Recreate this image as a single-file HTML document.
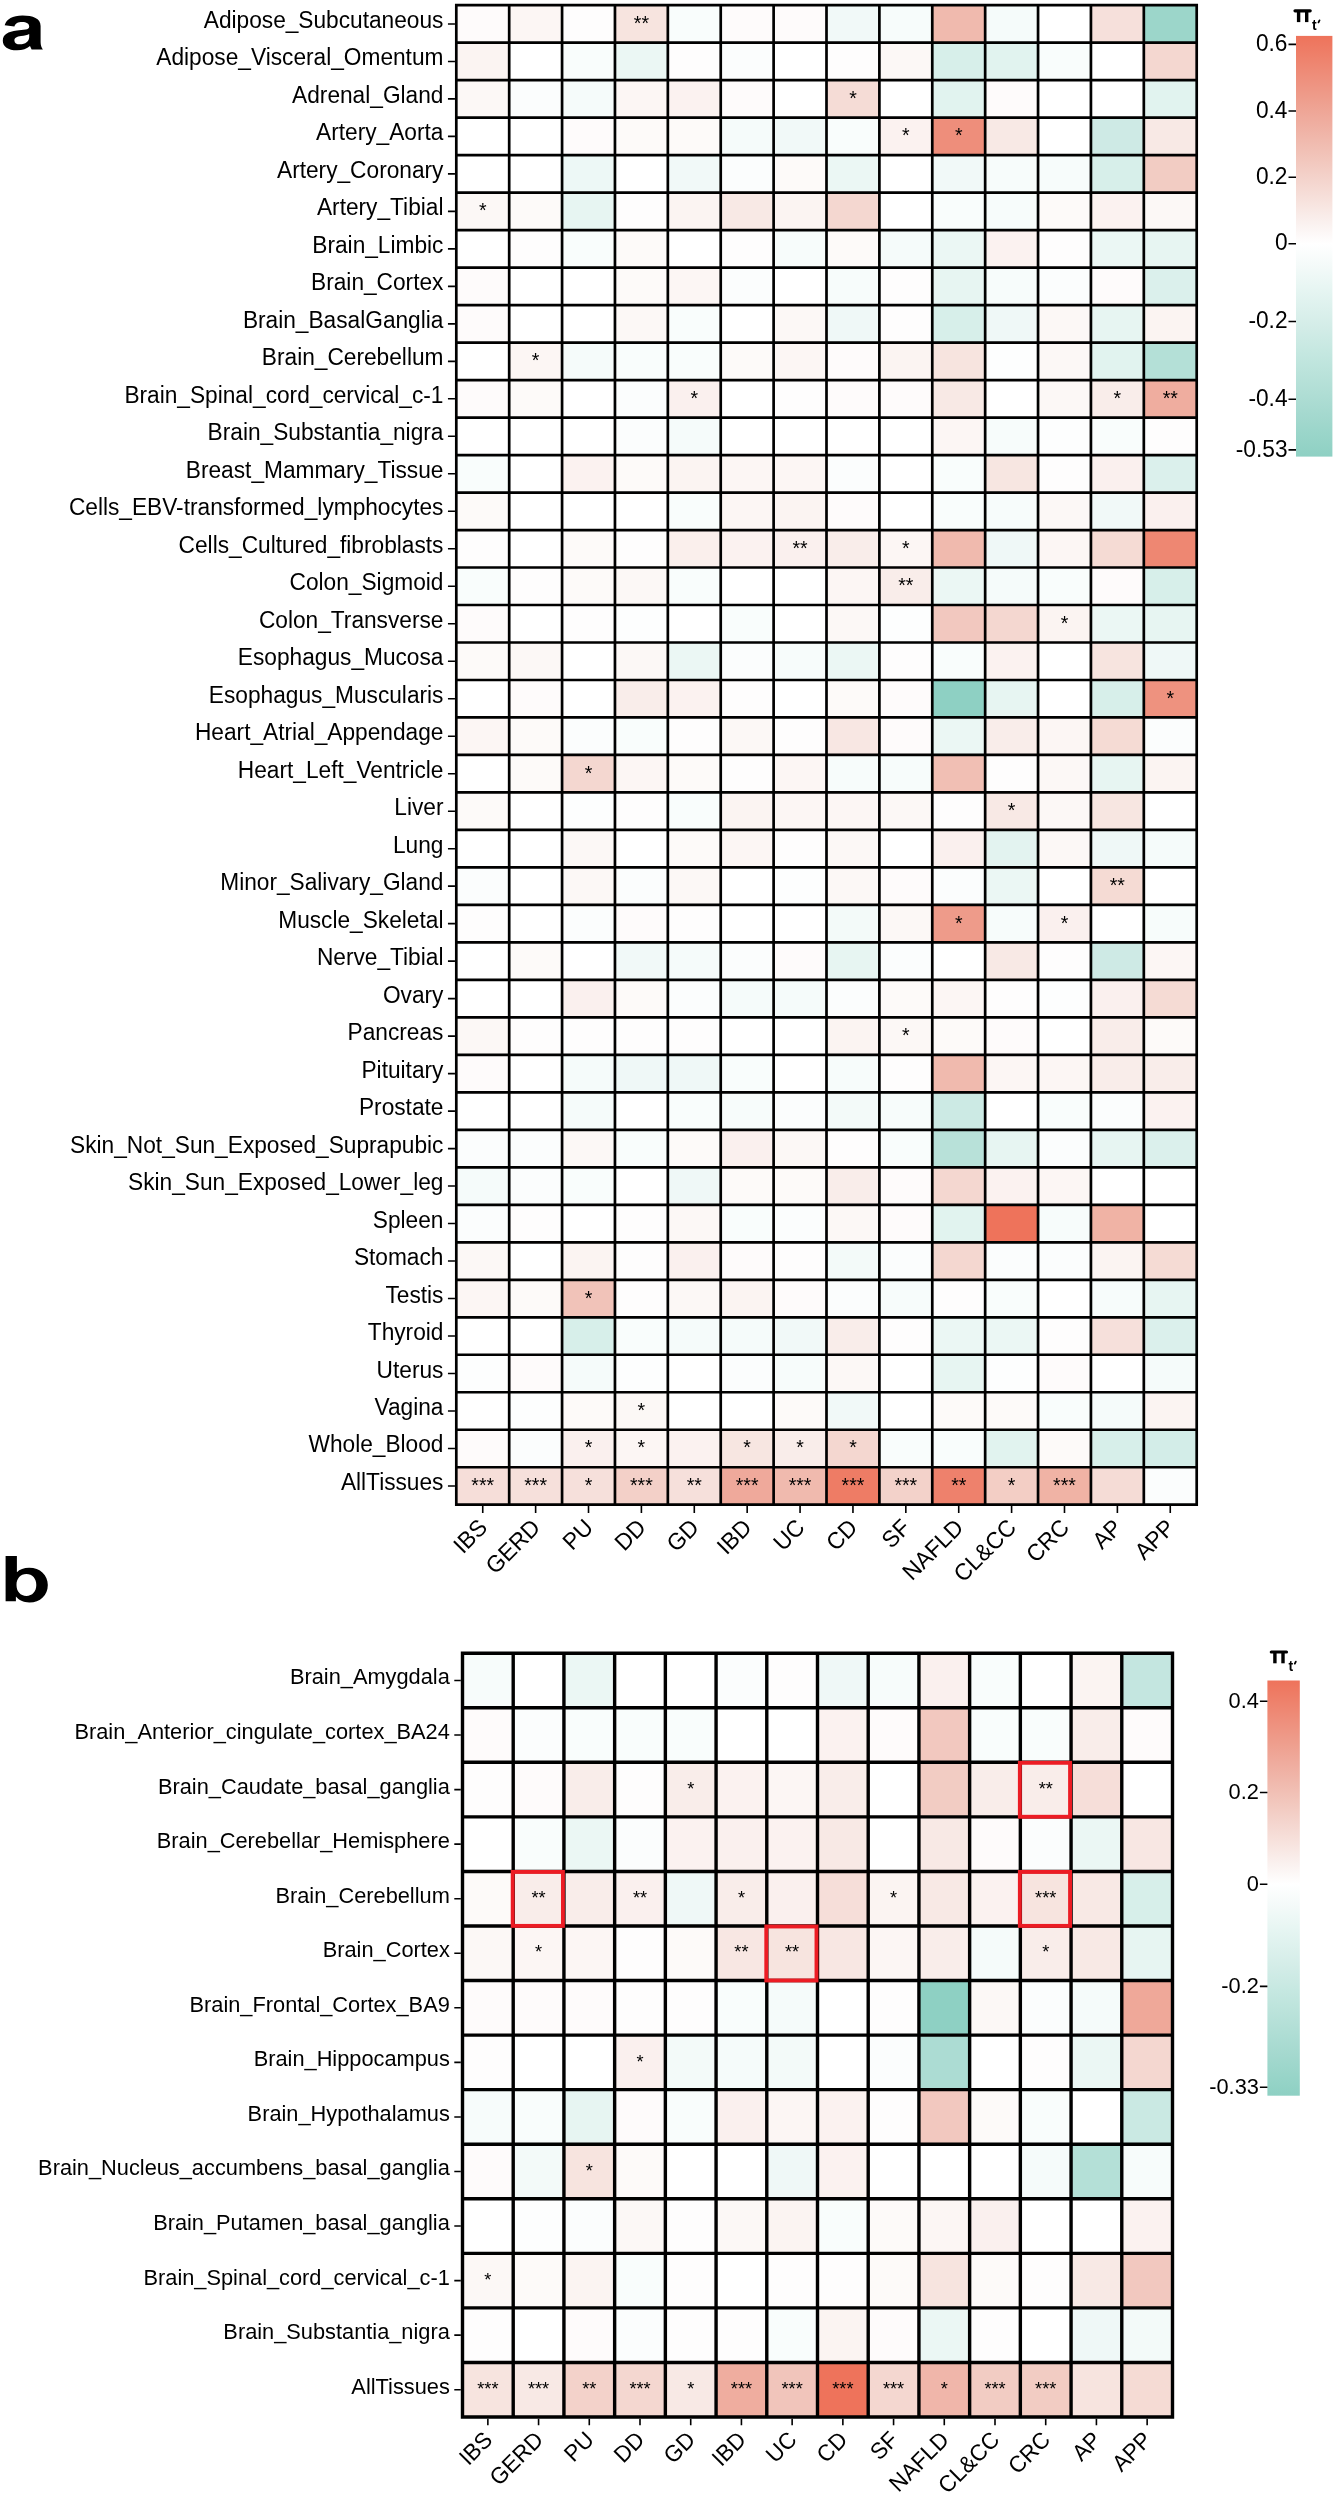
<!DOCTYPE html>
<html><head><meta charset="utf-8"><style>
html,body{margin:0;padding:0;background:#fff;}
svg{display:block;will-change:transform;}
text{font-family:"Liberation Sans",sans-serif;fill:#000;}
</style></head><body>
<svg width="1335" height="2495" viewBox="0 0 1335 2495">
<rect width="1335" height="2495" fill="#fff"/>
<rect x="456.30" y="5.20" width="52.89" height="37.49" fill="#fefbfb"/>
<rect x="509.19" y="5.20" width="52.89" height="37.49" fill="#fcf6f4"/>
<rect x="562.07" y="5.20" width="52.89" height="37.49" fill="#fefdfd"/>
<rect x="614.96" y="5.20" width="52.89" height="37.49" fill="#f7e4df"/>
<rect x="667.84" y="5.20" width="52.89" height="37.49" fill="#f9fdfc"/>
<rect x="720.73" y="5.20" width="52.89" height="37.49" fill="#fefbfb"/>
<rect x="773.62" y="5.20" width="52.89" height="37.49" fill="#fefbfb"/>
<rect x="826.50" y="5.20" width="52.89" height="37.49" fill="#f1f9f8"/>
<rect x="879.39" y="5.20" width="52.89" height="37.49" fill="#f7fcfb"/>
<rect x="932.27" y="5.20" width="52.89" height="37.49" fill="#f0baae"/>
<rect x="985.16" y="5.20" width="52.89" height="37.49" fill="#f5fbfa"/>
<rect x="1038.05" y="5.20" width="52.89" height="37.49" fill="#ffffff"/>
<rect x="1090.93" y="5.20" width="52.89" height="37.49" fill="#f6e0db"/>
<rect x="1143.82" y="5.20" width="52.89" height="37.49" fill="#9cd6ca"/>
<rect x="456.30" y="42.69" width="52.89" height="37.49" fill="#fbf4f2"/>
<rect x="509.19" y="42.69" width="52.89" height="37.49" fill="#ffffff"/>
<rect x="562.07" y="42.69" width="52.89" height="37.49" fill="#f9fdfc"/>
<rect x="614.96" y="42.69" width="52.89" height="37.49" fill="#ebf7f4"/>
<rect x="667.84" y="42.69" width="52.89" height="37.49" fill="#fefdfd"/>
<rect x="720.73" y="42.69" width="52.89" height="37.49" fill="#fbfdfd"/>
<rect x="773.62" y="42.69" width="52.89" height="37.49" fill="#ffffff"/>
<rect x="826.50" y="42.69" width="52.89" height="37.49" fill="#fefdfd"/>
<rect x="879.39" y="42.69" width="52.89" height="37.49" fill="#fcf8f6"/>
<rect x="932.27" y="42.69" width="52.89" height="37.49" fill="#d7efea"/>
<rect x="985.16" y="42.69" width="52.89" height="37.49" fill="#e1f3ef"/>
<rect x="1038.05" y="42.69" width="52.89" height="37.49" fill="#f9fdfc"/>
<rect x="1090.93" y="42.69" width="52.89" height="37.49" fill="#ffffff"/>
<rect x="1143.82" y="42.69" width="52.89" height="37.49" fill="#f4d7d0"/>
<rect x="456.30" y="80.18" width="52.89" height="37.49" fill="#fcf8f6"/>
<rect x="509.19" y="80.18" width="52.89" height="37.49" fill="#fbfdfd"/>
<rect x="562.07" y="80.18" width="52.89" height="37.49" fill="#f5fbfa"/>
<rect x="614.96" y="80.18" width="52.89" height="37.49" fill="#fcf6f4"/>
<rect x="667.84" y="80.18" width="52.89" height="37.49" fill="#fbf2f0"/>
<rect x="720.73" y="80.18" width="52.89" height="37.49" fill="#fefbfb"/>
<rect x="773.62" y="80.18" width="52.89" height="37.49" fill="#ffffff"/>
<rect x="826.50" y="80.18" width="52.89" height="37.49" fill="#f5dcd6"/>
<rect x="879.39" y="80.18" width="52.89" height="37.49" fill="#ffffff"/>
<rect x="932.27" y="80.18" width="52.89" height="37.49" fill="#e1f3ef"/>
<rect x="985.16" y="80.18" width="52.89" height="37.49" fill="#fefbfb"/>
<rect x="1038.05" y="80.18" width="52.89" height="37.49" fill="#ffffff"/>
<rect x="1090.93" y="80.18" width="52.89" height="37.49" fill="#ffffff"/>
<rect x="1143.82" y="80.18" width="52.89" height="37.49" fill="#e1f3ef"/>
<rect x="456.30" y="117.66" width="52.89" height="37.49" fill="#ffffff"/>
<rect x="509.19" y="117.66" width="52.89" height="37.49" fill="#ffffff"/>
<rect x="562.07" y="117.66" width="52.89" height="37.49" fill="#fefbfb"/>
<rect x="614.96" y="117.66" width="52.89" height="37.49" fill="#fdfaf9"/>
<rect x="667.84" y="117.66" width="52.89" height="37.49" fill="#fdfaf9"/>
<rect x="720.73" y="117.66" width="52.89" height="37.49" fill="#f5fbfa"/>
<rect x="773.62" y="117.66" width="52.89" height="37.49" fill="#f1f9f8"/>
<rect x="826.50" y="117.66" width="52.89" height="37.49" fill="#f9fdfc"/>
<rect x="879.39" y="117.66" width="52.89" height="37.49" fill="#fbf2f0"/>
<rect x="932.27" y="117.66" width="52.89" height="37.49" fill="#ee8e7b"/>
<rect x="985.16" y="117.66" width="52.89" height="37.49" fill="#f8e9e5"/>
<rect x="1038.05" y="117.66" width="52.89" height="37.49" fill="#ffffff"/>
<rect x="1090.93" y="117.66" width="52.89" height="37.49" fill="#ceeae5"/>
<rect x="1143.82" y="117.66" width="52.89" height="37.49" fill="#f8e9e5"/>
<rect x="456.30" y="155.15" width="52.89" height="37.49" fill="#ffffff"/>
<rect x="509.19" y="155.15" width="52.89" height="37.49" fill="#ffffff"/>
<rect x="562.07" y="155.15" width="52.89" height="37.49" fill="#edf8f6"/>
<rect x="614.96" y="155.15" width="52.89" height="37.49" fill="#ffffff"/>
<rect x="667.84" y="155.15" width="52.89" height="37.49" fill="#f1f9f8"/>
<rect x="720.73" y="155.15" width="52.89" height="37.49" fill="#fbfdfd"/>
<rect x="773.62" y="155.15" width="52.89" height="37.49" fill="#fdfaf9"/>
<rect x="826.50" y="155.15" width="52.89" height="37.49" fill="#ebf7f4"/>
<rect x="879.39" y="155.15" width="52.89" height="37.49" fill="#ffffff"/>
<rect x="932.27" y="155.15" width="52.89" height="37.49" fill="#f1f9f8"/>
<rect x="985.16" y="155.15" width="52.89" height="37.49" fill="#f7fcfb"/>
<rect x="1038.05" y="155.15" width="52.89" height="37.49" fill="#f7fcfb"/>
<rect x="1090.93" y="155.15" width="52.89" height="37.49" fill="#d7efea"/>
<rect x="1143.82" y="155.15" width="52.89" height="37.49" fill="#f2ccc3"/>
<rect x="456.30" y="192.64" width="52.89" height="37.49" fill="#fcf8f6"/>
<rect x="509.19" y="192.64" width="52.89" height="37.49" fill="#fdfaf9"/>
<rect x="562.07" y="192.64" width="52.89" height="37.49" fill="#e7f5f2"/>
<rect x="614.96" y="192.64" width="52.89" height="37.49" fill="#fefdfd"/>
<rect x="667.84" y="192.64" width="52.89" height="37.49" fill="#fbf4f2"/>
<rect x="720.73" y="192.64" width="52.89" height="37.49" fill="#f8e9e5"/>
<rect x="773.62" y="192.64" width="52.89" height="37.49" fill="#fbf4f2"/>
<rect x="826.50" y="192.64" width="52.89" height="37.49" fill="#f4d7d0"/>
<rect x="879.39" y="192.64" width="52.89" height="37.49" fill="#ffffff"/>
<rect x="932.27" y="192.64" width="52.89" height="37.49" fill="#f9fdfc"/>
<rect x="985.16" y="192.64" width="52.89" height="37.49" fill="#f7fcfb"/>
<rect x="1038.05" y="192.64" width="52.89" height="37.49" fill="#fdfaf9"/>
<rect x="1090.93" y="192.64" width="52.89" height="37.49" fill="#fbf2f0"/>
<rect x="1143.82" y="192.64" width="52.89" height="37.49" fill="#fcf8f6"/>
<rect x="456.30" y="230.13" width="52.89" height="37.49" fill="#ffffff"/>
<rect x="509.19" y="230.13" width="52.89" height="37.49" fill="#fefdfd"/>
<rect x="562.07" y="230.13" width="52.89" height="37.49" fill="#f9fdfc"/>
<rect x="614.96" y="230.13" width="52.89" height="37.49" fill="#fdfaf9"/>
<rect x="667.84" y="230.13" width="52.89" height="37.49" fill="#ffffff"/>
<rect x="720.73" y="230.13" width="52.89" height="37.49" fill="#fefdfd"/>
<rect x="773.62" y="230.13" width="52.89" height="37.49" fill="#f7fcfb"/>
<rect x="826.50" y="230.13" width="52.89" height="37.49" fill="#fdfaf9"/>
<rect x="879.39" y="230.13" width="52.89" height="37.49" fill="#f5fbfa"/>
<rect x="932.27" y="230.13" width="52.89" height="37.49" fill="#ebf7f4"/>
<rect x="985.16" y="230.13" width="52.89" height="37.49" fill="#fbf2f0"/>
<rect x="1038.05" y="230.13" width="52.89" height="37.49" fill="#fefdfd"/>
<rect x="1090.93" y="230.13" width="52.89" height="37.49" fill="#ebf7f4"/>
<rect x="1143.82" y="230.13" width="52.89" height="37.49" fill="#e7f5f2"/>
<rect x="456.30" y="267.62" width="52.89" height="37.49" fill="#fefbfb"/>
<rect x="509.19" y="267.62" width="52.89" height="37.49" fill="#ffffff"/>
<rect x="562.07" y="267.62" width="52.89" height="37.49" fill="#ffffff"/>
<rect x="614.96" y="267.62" width="52.89" height="37.49" fill="#fdfaf9"/>
<rect x="667.84" y="267.62" width="52.89" height="37.49" fill="#fcf6f4"/>
<rect x="720.73" y="267.62" width="52.89" height="37.49" fill="#fbfdfd"/>
<rect x="773.62" y="267.62" width="52.89" height="37.49" fill="#ffffff"/>
<rect x="826.50" y="267.62" width="52.89" height="37.49" fill="#f7fcfb"/>
<rect x="879.39" y="267.62" width="52.89" height="37.49" fill="#fefdfd"/>
<rect x="932.27" y="267.62" width="52.89" height="37.49" fill="#e7f5f2"/>
<rect x="985.16" y="267.62" width="52.89" height="37.49" fill="#f7fcfb"/>
<rect x="1038.05" y="267.62" width="52.89" height="37.49" fill="#fbfdfd"/>
<rect x="1090.93" y="267.62" width="52.89" height="37.49" fill="#fefbfb"/>
<rect x="1143.82" y="267.62" width="52.89" height="37.49" fill="#dbf0ec"/>
<rect x="456.30" y="305.10" width="52.89" height="37.49" fill="#fefbfb"/>
<rect x="509.19" y="305.10" width="52.89" height="37.49" fill="#ffffff"/>
<rect x="562.07" y="305.10" width="52.89" height="37.49" fill="#ffffff"/>
<rect x="614.96" y="305.10" width="52.89" height="37.49" fill="#fcf8f6"/>
<rect x="667.84" y="305.10" width="52.89" height="37.49" fill="#f9fdfc"/>
<rect x="720.73" y="305.10" width="52.89" height="37.49" fill="#ffffff"/>
<rect x="773.62" y="305.10" width="52.89" height="37.49" fill="#fcf8f6"/>
<rect x="826.50" y="305.10" width="52.89" height="37.49" fill="#eff8f7"/>
<rect x="879.39" y="305.10" width="52.89" height="37.49" fill="#fefdfd"/>
<rect x="932.27" y="305.10" width="52.89" height="37.49" fill="#d7efea"/>
<rect x="985.16" y="305.10" width="52.89" height="37.49" fill="#eff8f7"/>
<rect x="1038.05" y="305.10" width="52.89" height="37.49" fill="#fcf8f6"/>
<rect x="1090.93" y="305.10" width="52.89" height="37.49" fill="#e7f5f2"/>
<rect x="1143.82" y="305.10" width="52.89" height="37.49" fill="#fbf4f2"/>
<rect x="456.30" y="342.59" width="52.89" height="37.49" fill="#ffffff"/>
<rect x="509.19" y="342.59" width="52.89" height="37.49" fill="#fcf6f4"/>
<rect x="562.07" y="342.59" width="52.89" height="37.49" fill="#f5fbfa"/>
<rect x="614.96" y="342.59" width="52.89" height="37.49" fill="#f9fdfc"/>
<rect x="667.84" y="342.59" width="52.89" height="37.49" fill="#f9fdfc"/>
<rect x="720.73" y="342.59" width="52.89" height="37.49" fill="#fdfaf9"/>
<rect x="773.62" y="342.59" width="52.89" height="37.49" fill="#fcf6f4"/>
<rect x="826.50" y="342.59" width="52.89" height="37.49" fill="#fefbfb"/>
<rect x="879.39" y="342.59" width="52.89" height="37.49" fill="#fbf4f2"/>
<rect x="932.27" y="342.59" width="52.89" height="37.49" fill="#f7e4df"/>
<rect x="985.16" y="342.59" width="52.89" height="37.49" fill="#fdfefe"/>
<rect x="1038.05" y="342.59" width="52.89" height="37.49" fill="#fcf8f6"/>
<rect x="1090.93" y="342.59" width="52.89" height="37.49" fill="#e1f3ef"/>
<rect x="1143.82" y="342.59" width="52.89" height="37.49" fill="#b4e0d7"/>
<rect x="456.30" y="380.08" width="52.89" height="37.49" fill="#fefbfb"/>
<rect x="509.19" y="380.08" width="52.89" height="37.49" fill="#fdfaf9"/>
<rect x="562.07" y="380.08" width="52.89" height="37.49" fill="#ffffff"/>
<rect x="614.96" y="380.08" width="52.89" height="37.49" fill="#fbfdfd"/>
<rect x="667.84" y="380.08" width="52.89" height="37.49" fill="#faf0ee"/>
<rect x="720.73" y="380.08" width="52.89" height="37.49" fill="#ffffff"/>
<rect x="773.62" y="380.08" width="52.89" height="37.49" fill="#fefdfd"/>
<rect x="826.50" y="380.08" width="52.89" height="37.49" fill="#fefbfb"/>
<rect x="879.39" y="380.08" width="52.89" height="37.49" fill="#fefbfb"/>
<rect x="932.27" y="380.08" width="52.89" height="37.49" fill="#f8e9e5"/>
<rect x="985.16" y="380.08" width="52.89" height="37.49" fill="#ffffff"/>
<rect x="1038.05" y="380.08" width="52.89" height="37.49" fill="#fcf8f6"/>
<rect x="1090.93" y="380.08" width="52.89" height="37.49" fill="#f9edea"/>
<rect x="1143.82" y="380.08" width="52.89" height="37.49" fill="#efad9f"/>
<rect x="456.30" y="417.57" width="52.89" height="37.49" fill="#ffffff"/>
<rect x="509.19" y="417.57" width="52.89" height="37.49" fill="#ffffff"/>
<rect x="562.07" y="417.57" width="52.89" height="37.49" fill="#ffffff"/>
<rect x="614.96" y="417.57" width="52.89" height="37.49" fill="#fbfdfd"/>
<rect x="667.84" y="417.57" width="52.89" height="37.49" fill="#f5fbfa"/>
<rect x="720.73" y="417.57" width="52.89" height="37.49" fill="#ffffff"/>
<rect x="773.62" y="417.57" width="52.89" height="37.49" fill="#ffffff"/>
<rect x="826.50" y="417.57" width="52.89" height="37.49" fill="#ffffff"/>
<rect x="879.39" y="417.57" width="52.89" height="37.49" fill="#ffffff"/>
<rect x="932.27" y="417.57" width="52.89" height="37.49" fill="#fcf6f4"/>
<rect x="985.16" y="417.57" width="52.89" height="37.49" fill="#f7fcfb"/>
<rect x="1038.05" y="417.57" width="52.89" height="37.49" fill="#fdfefe"/>
<rect x="1090.93" y="417.57" width="52.89" height="37.49" fill="#f9fdfc"/>
<rect x="1143.82" y="417.57" width="52.89" height="37.49" fill="#fefdfd"/>
<rect x="456.30" y="455.06" width="52.89" height="37.49" fill="#f9fdfc"/>
<rect x="509.19" y="455.06" width="52.89" height="37.49" fill="#ffffff"/>
<rect x="562.07" y="455.06" width="52.89" height="37.49" fill="#fbf2f0"/>
<rect x="614.96" y="455.06" width="52.89" height="37.49" fill="#fdfaf9"/>
<rect x="667.84" y="455.06" width="52.89" height="37.49" fill="#fbf4f2"/>
<rect x="720.73" y="455.06" width="52.89" height="37.49" fill="#fcf6f4"/>
<rect x="773.62" y="455.06" width="52.89" height="37.49" fill="#fcf6f4"/>
<rect x="826.50" y="455.06" width="52.89" height="37.49" fill="#fbfdfd"/>
<rect x="879.39" y="455.06" width="52.89" height="37.49" fill="#ffffff"/>
<rect x="932.27" y="455.06" width="52.89" height="37.49" fill="#f9fdfc"/>
<rect x="985.16" y="455.06" width="52.89" height="37.49" fill="#f7e6e1"/>
<rect x="1038.05" y="455.06" width="52.89" height="37.49" fill="#fefdfd"/>
<rect x="1090.93" y="455.06" width="52.89" height="37.49" fill="#faf0ee"/>
<rect x="1143.82" y="455.06" width="52.89" height="37.49" fill="#dbf0ec"/>
<rect x="456.30" y="492.54" width="52.89" height="37.49" fill="#fdfaf9"/>
<rect x="509.19" y="492.54" width="52.89" height="37.49" fill="#ffffff"/>
<rect x="562.07" y="492.54" width="52.89" height="37.49" fill="#ffffff"/>
<rect x="614.96" y="492.54" width="52.89" height="37.49" fill="#ffffff"/>
<rect x="667.84" y="492.54" width="52.89" height="37.49" fill="#f9fdfc"/>
<rect x="720.73" y="492.54" width="52.89" height="37.49" fill="#fcf6f4"/>
<rect x="773.62" y="492.54" width="52.89" height="37.49" fill="#fbf4f2"/>
<rect x="826.50" y="492.54" width="52.89" height="37.49" fill="#fefbfb"/>
<rect x="879.39" y="492.54" width="52.89" height="37.49" fill="#ffffff"/>
<rect x="932.27" y="492.54" width="52.89" height="37.49" fill="#f9fdfc"/>
<rect x="985.16" y="492.54" width="52.89" height="37.49" fill="#f7fcfb"/>
<rect x="1038.05" y="492.54" width="52.89" height="37.49" fill="#fcf8f6"/>
<rect x="1090.93" y="492.54" width="52.89" height="37.49" fill="#f1f9f8"/>
<rect x="1143.82" y="492.54" width="52.89" height="37.49" fill="#faf0ee"/>
<rect x="456.30" y="530.03" width="52.89" height="37.49" fill="#fefdfd"/>
<rect x="509.19" y="530.03" width="52.89" height="37.49" fill="#ffffff"/>
<rect x="562.07" y="530.03" width="52.89" height="37.49" fill="#fdfaf9"/>
<rect x="614.96" y="530.03" width="52.89" height="37.49" fill="#fefdfd"/>
<rect x="667.84" y="530.03" width="52.89" height="37.49" fill="#faefec"/>
<rect x="720.73" y="530.03" width="52.89" height="37.49" fill="#fbf2f0"/>
<rect x="773.62" y="530.03" width="52.89" height="37.49" fill="#faf0ee"/>
<rect x="826.50" y="530.03" width="52.89" height="37.49" fill="#f9edea"/>
<rect x="879.39" y="530.03" width="52.89" height="37.49" fill="#fcf6f4"/>
<rect x="932.27" y="530.03" width="52.89" height="37.49" fill="#f0baae"/>
<rect x="985.16" y="530.03" width="52.89" height="37.49" fill="#eff8f7"/>
<rect x="1038.05" y="530.03" width="52.89" height="37.49" fill="#fcf6f4"/>
<rect x="1090.93" y="530.03" width="52.89" height="37.49" fill="#f5dbd4"/>
<rect x="1143.82" y="530.03" width="52.89" height="37.49" fill="#ee8772"/>
<rect x="456.30" y="567.52" width="52.89" height="37.49" fill="#f9fdfc"/>
<rect x="509.19" y="567.52" width="52.89" height="37.49" fill="#fefdfd"/>
<rect x="562.07" y="567.52" width="52.89" height="37.49" fill="#fdfaf9"/>
<rect x="614.96" y="567.52" width="52.89" height="37.49" fill="#fcf8f6"/>
<rect x="667.84" y="567.52" width="52.89" height="37.49" fill="#f9fdfc"/>
<rect x="720.73" y="567.52" width="52.89" height="37.49" fill="#ffffff"/>
<rect x="773.62" y="567.52" width="52.89" height="37.49" fill="#ffffff"/>
<rect x="826.50" y="567.52" width="52.89" height="37.49" fill="#fcf6f4"/>
<rect x="879.39" y="567.52" width="52.89" height="37.49" fill="#f9edea"/>
<rect x="932.27" y="567.52" width="52.89" height="37.49" fill="#ebf7f4"/>
<rect x="985.16" y="567.52" width="52.89" height="37.49" fill="#f5fbfa"/>
<rect x="1038.05" y="567.52" width="52.89" height="37.49" fill="#f9fdfc"/>
<rect x="1090.93" y="567.52" width="52.89" height="37.49" fill="#fefbfb"/>
<rect x="1143.82" y="567.52" width="52.89" height="37.49" fill="#d7efea"/>
<rect x="456.30" y="605.01" width="52.89" height="37.49" fill="#fefbfb"/>
<rect x="509.19" y="605.01" width="52.89" height="37.49" fill="#ffffff"/>
<rect x="562.07" y="605.01" width="52.89" height="37.49" fill="#fefdfd"/>
<rect x="614.96" y="605.01" width="52.89" height="37.49" fill="#fdfefe"/>
<rect x="667.84" y="605.01" width="52.89" height="37.49" fill="#ffffff"/>
<rect x="720.73" y="605.01" width="52.89" height="37.49" fill="#f9fdfc"/>
<rect x="773.62" y="605.01" width="52.89" height="37.49" fill="#ffffff"/>
<rect x="826.50" y="605.01" width="52.89" height="37.49" fill="#fcf8f6"/>
<rect x="879.39" y="605.01" width="52.89" height="37.49" fill="#fdfefe"/>
<rect x="932.27" y="605.01" width="52.89" height="37.49" fill="#f2c8bf"/>
<rect x="985.16" y="605.01" width="52.89" height="37.49" fill="#f4d7d0"/>
<rect x="1038.05" y="605.01" width="52.89" height="37.49" fill="#fbf4f2"/>
<rect x="1090.93" y="605.01" width="52.89" height="37.49" fill="#ebf7f4"/>
<rect x="1143.82" y="605.01" width="52.89" height="37.49" fill="#e7f5f2"/>
<rect x="456.30" y="642.50" width="52.89" height="37.49" fill="#fdfaf9"/>
<rect x="509.19" y="642.50" width="52.89" height="37.49" fill="#fcf8f6"/>
<rect x="562.07" y="642.50" width="52.89" height="37.49" fill="#ffffff"/>
<rect x="614.96" y="642.50" width="52.89" height="37.49" fill="#fcf8f6"/>
<rect x="667.84" y="642.50" width="52.89" height="37.49" fill="#ebf7f4"/>
<rect x="720.73" y="642.50" width="52.89" height="37.49" fill="#fbfdfd"/>
<rect x="773.62" y="642.50" width="52.89" height="37.49" fill="#f7fcfb"/>
<rect x="826.50" y="642.50" width="52.89" height="37.49" fill="#ebf7f4"/>
<rect x="879.39" y="642.50" width="52.89" height="37.49" fill="#fefdfd"/>
<rect x="932.27" y="642.50" width="52.89" height="37.49" fill="#f9fdfc"/>
<rect x="985.16" y="642.50" width="52.89" height="37.49" fill="#fbf2f0"/>
<rect x="1038.05" y="642.50" width="52.89" height="37.49" fill="#ffffff"/>
<rect x="1090.93" y="642.50" width="52.89" height="37.49" fill="#f7e4df"/>
<rect x="1143.82" y="642.50" width="52.89" height="37.49" fill="#eff8f7"/>
<rect x="456.30" y="679.98" width="52.89" height="37.49" fill="#ffffff"/>
<rect x="509.19" y="679.98" width="52.89" height="37.49" fill="#fefbfb"/>
<rect x="562.07" y="679.98" width="52.89" height="37.49" fill="#ffffff"/>
<rect x="614.96" y="679.98" width="52.89" height="37.49" fill="#f9edea"/>
<rect x="667.84" y="679.98" width="52.89" height="37.49" fill="#fbf2f0"/>
<rect x="720.73" y="679.98" width="52.89" height="37.49" fill="#fefdfd"/>
<rect x="773.62" y="679.98" width="52.89" height="37.49" fill="#ffffff"/>
<rect x="826.50" y="679.98" width="52.89" height="37.49" fill="#fdfaf9"/>
<rect x="879.39" y="679.98" width="52.89" height="37.49" fill="#fefbfb"/>
<rect x="932.27" y="679.98" width="52.89" height="37.49" fill="#8ed0c3"/>
<rect x="985.16" y="679.98" width="52.89" height="37.49" fill="#e7f5f2"/>
<rect x="1038.05" y="679.98" width="52.89" height="37.49" fill="#ffffff"/>
<rect x="1090.93" y="679.98" width="52.89" height="37.49" fill="#d7efea"/>
<rect x="1143.82" y="679.98" width="52.89" height="37.49" fill="#ee927f"/>
<rect x="456.30" y="717.47" width="52.89" height="37.49" fill="#fcf6f4"/>
<rect x="509.19" y="717.47" width="52.89" height="37.49" fill="#fdfaf9"/>
<rect x="562.07" y="717.47" width="52.89" height="37.49" fill="#fbfdfd"/>
<rect x="614.96" y="717.47" width="52.89" height="37.49" fill="#f9fdfc"/>
<rect x="667.84" y="717.47" width="52.89" height="37.49" fill="#fefdfd"/>
<rect x="720.73" y="717.47" width="52.89" height="37.49" fill="#fcf8f6"/>
<rect x="773.62" y="717.47" width="52.89" height="37.49" fill="#fefdfd"/>
<rect x="826.50" y="717.47" width="52.89" height="37.49" fill="#f8e7e3"/>
<rect x="879.39" y="717.47" width="52.89" height="37.49" fill="#fefbfb"/>
<rect x="932.27" y="717.47" width="52.89" height="37.49" fill="#ebf7f4"/>
<rect x="985.16" y="717.47" width="52.89" height="37.49" fill="#f9edea"/>
<rect x="1038.05" y="717.47" width="52.89" height="37.49" fill="#fcf6f4"/>
<rect x="1090.93" y="717.47" width="52.89" height="37.49" fill="#f5dbd4"/>
<rect x="1143.82" y="717.47" width="52.89" height="37.49" fill="#fbfdfd"/>
<rect x="456.30" y="754.96" width="52.89" height="37.49" fill="#ffffff"/>
<rect x="509.19" y="754.96" width="52.89" height="37.49" fill="#fdfaf9"/>
<rect x="562.07" y="754.96" width="52.89" height="37.49" fill="#f4d7d0"/>
<rect x="614.96" y="754.96" width="52.89" height="37.49" fill="#fcf6f4"/>
<rect x="667.84" y="754.96" width="52.89" height="37.49" fill="#fdfaf9"/>
<rect x="720.73" y="754.96" width="52.89" height="37.49" fill="#fefdfd"/>
<rect x="773.62" y="754.96" width="52.89" height="37.49" fill="#fcf6f4"/>
<rect x="826.50" y="754.96" width="52.89" height="37.49" fill="#f7fcfb"/>
<rect x="879.39" y="754.96" width="52.89" height="37.49" fill="#f7fcfb"/>
<rect x="932.27" y="754.96" width="52.89" height="37.49" fill="#f1bfb4"/>
<rect x="985.16" y="754.96" width="52.89" height="37.49" fill="#fefdfd"/>
<rect x="1038.05" y="754.96" width="52.89" height="37.49" fill="#fcf8f6"/>
<rect x="1090.93" y="754.96" width="52.89" height="37.49" fill="#e7f5f2"/>
<rect x="1143.82" y="754.96" width="52.89" height="37.49" fill="#fbf4f2"/>
<rect x="456.30" y="792.45" width="52.89" height="37.49" fill="#fdfaf9"/>
<rect x="509.19" y="792.45" width="52.89" height="37.49" fill="#ffffff"/>
<rect x="562.07" y="792.45" width="52.89" height="37.49" fill="#fdfefe"/>
<rect x="614.96" y="792.45" width="52.89" height="37.49" fill="#fefdfd"/>
<rect x="667.84" y="792.45" width="52.89" height="37.49" fill="#f9fdfc"/>
<rect x="720.73" y="792.45" width="52.89" height="37.49" fill="#fbf4f2"/>
<rect x="773.62" y="792.45" width="52.89" height="37.49" fill="#fcf6f4"/>
<rect x="826.50" y="792.45" width="52.89" height="37.49" fill="#fcf6f4"/>
<rect x="879.39" y="792.45" width="52.89" height="37.49" fill="#fcf8f6"/>
<rect x="932.27" y="792.45" width="52.89" height="37.49" fill="#fefdfd"/>
<rect x="985.16" y="792.45" width="52.89" height="37.49" fill="#f8e9e5"/>
<rect x="1038.05" y="792.45" width="52.89" height="37.49" fill="#fcf8f6"/>
<rect x="1090.93" y="792.45" width="52.89" height="37.49" fill="#f7e6e1"/>
<rect x="1143.82" y="792.45" width="52.89" height="37.49" fill="#ffffff"/>
<rect x="456.30" y="829.94" width="52.89" height="37.49" fill="#ffffff"/>
<rect x="509.19" y="829.94" width="52.89" height="37.49" fill="#ffffff"/>
<rect x="562.07" y="829.94" width="52.89" height="37.49" fill="#fcf8f6"/>
<rect x="614.96" y="829.94" width="52.89" height="37.49" fill="#ffffff"/>
<rect x="667.84" y="829.94" width="52.89" height="37.49" fill="#fdfaf9"/>
<rect x="720.73" y="829.94" width="52.89" height="37.49" fill="#fcf6f4"/>
<rect x="773.62" y="829.94" width="52.89" height="37.49" fill="#fefdfd"/>
<rect x="826.50" y="829.94" width="52.89" height="37.49" fill="#fcf8f6"/>
<rect x="879.39" y="829.94" width="52.89" height="37.49" fill="#ffffff"/>
<rect x="932.27" y="829.94" width="52.89" height="37.49" fill="#faf0ee"/>
<rect x="985.16" y="829.94" width="52.89" height="37.49" fill="#e3f3f0"/>
<rect x="1038.05" y="829.94" width="52.89" height="37.49" fill="#fcf8f6"/>
<rect x="1090.93" y="829.94" width="52.89" height="37.49" fill="#eff8f7"/>
<rect x="1143.82" y="829.94" width="52.89" height="37.49" fill="#f5fbfa"/>
<rect x="456.30" y="867.42" width="52.89" height="37.49" fill="#fbfdfd"/>
<rect x="509.19" y="867.42" width="52.89" height="37.49" fill="#ffffff"/>
<rect x="562.07" y="867.42" width="52.89" height="37.49" fill="#fcf8f6"/>
<rect x="614.96" y="867.42" width="52.89" height="37.49" fill="#fbfdfd"/>
<rect x="667.84" y="867.42" width="52.89" height="37.49" fill="#fcf8f6"/>
<rect x="720.73" y="867.42" width="52.89" height="37.49" fill="#ffffff"/>
<rect x="773.62" y="867.42" width="52.89" height="37.49" fill="#fdfefe"/>
<rect x="826.50" y="867.42" width="52.89" height="37.49" fill="#fcf8f6"/>
<rect x="879.39" y="867.42" width="52.89" height="37.49" fill="#fefbfb"/>
<rect x="932.27" y="867.42" width="52.89" height="37.49" fill="#fbfdfd"/>
<rect x="985.16" y="867.42" width="52.89" height="37.49" fill="#ebf7f4"/>
<rect x="1038.05" y="867.42" width="52.89" height="37.49" fill="#ffffff"/>
<rect x="1090.93" y="867.42" width="52.89" height="37.49" fill="#f5dbd4"/>
<rect x="1143.82" y="867.42" width="52.89" height="37.49" fill="#ffffff"/>
<rect x="456.30" y="904.91" width="52.89" height="37.49" fill="#fefdfd"/>
<rect x="509.19" y="904.91" width="52.89" height="37.49" fill="#ffffff"/>
<rect x="562.07" y="904.91" width="52.89" height="37.49" fill="#fbfdfd"/>
<rect x="614.96" y="904.91" width="52.89" height="37.49" fill="#fefbfb"/>
<rect x="667.84" y="904.91" width="52.89" height="37.49" fill="#fefdfd"/>
<rect x="720.73" y="904.91" width="52.89" height="37.49" fill="#ffffff"/>
<rect x="773.62" y="904.91" width="52.89" height="37.49" fill="#ffffff"/>
<rect x="826.50" y="904.91" width="52.89" height="37.49" fill="#f3faf9"/>
<rect x="879.39" y="904.91" width="52.89" height="37.49" fill="#fcf8f6"/>
<rect x="932.27" y="904.91" width="52.89" height="37.49" fill="#ee9b8a"/>
<rect x="985.16" y="904.91" width="52.89" height="37.49" fill="#f7fcfb"/>
<rect x="1038.05" y="904.91" width="52.89" height="37.49" fill="#faf0ee"/>
<rect x="1090.93" y="904.91" width="52.89" height="37.49" fill="#ffffff"/>
<rect x="1143.82" y="904.91" width="52.89" height="37.49" fill="#f7fcfb"/>
<rect x="456.30" y="942.40" width="52.89" height="37.49" fill="#ffffff"/>
<rect x="509.19" y="942.40" width="52.89" height="37.49" fill="#fdfaf9"/>
<rect x="562.07" y="942.40" width="52.89" height="37.49" fill="#ffffff"/>
<rect x="614.96" y="942.40" width="52.89" height="37.49" fill="#f1f9f8"/>
<rect x="667.84" y="942.40" width="52.89" height="37.49" fill="#f5fbfa"/>
<rect x="720.73" y="942.40" width="52.89" height="37.49" fill="#fbfdfd"/>
<rect x="773.62" y="942.40" width="52.89" height="37.49" fill="#fefbfb"/>
<rect x="826.50" y="942.40" width="52.89" height="37.49" fill="#e7f5f2"/>
<rect x="879.39" y="942.40" width="52.89" height="37.49" fill="#fbfdfd"/>
<rect x="932.27" y="942.40" width="52.89" height="37.49" fill="#ffffff"/>
<rect x="985.16" y="942.40" width="52.89" height="37.49" fill="#f8e9e5"/>
<rect x="1038.05" y="942.40" width="52.89" height="37.49" fill="#fefdfd"/>
<rect x="1090.93" y="942.40" width="52.89" height="37.49" fill="#ceeae5"/>
<rect x="1143.82" y="942.40" width="52.89" height="37.49" fill="#fcf6f4"/>
<rect x="456.30" y="979.89" width="52.89" height="37.49" fill="#ffffff"/>
<rect x="509.19" y="979.89" width="52.89" height="37.49" fill="#ffffff"/>
<rect x="562.07" y="979.89" width="52.89" height="37.49" fill="#faf0ee"/>
<rect x="614.96" y="979.89" width="52.89" height="37.49" fill="#fdfaf9"/>
<rect x="667.84" y="979.89" width="52.89" height="37.49" fill="#fbfdfd"/>
<rect x="720.73" y="979.89" width="52.89" height="37.49" fill="#f5fbfa"/>
<rect x="773.62" y="979.89" width="52.89" height="37.49" fill="#f5fbfa"/>
<rect x="826.50" y="979.89" width="52.89" height="37.49" fill="#fbfdfd"/>
<rect x="879.39" y="979.89" width="52.89" height="37.49" fill="#fdfaf9"/>
<rect x="932.27" y="979.89" width="52.89" height="37.49" fill="#fcf6f4"/>
<rect x="985.16" y="979.89" width="52.89" height="37.49" fill="#fefdfd"/>
<rect x="1038.05" y="979.89" width="52.89" height="37.49" fill="#fdfefe"/>
<rect x="1090.93" y="979.89" width="52.89" height="37.49" fill="#faf0ee"/>
<rect x="1143.82" y="979.89" width="52.89" height="37.49" fill="#f5dbd4"/>
<rect x="456.30" y="1017.38" width="52.89" height="37.49" fill="#fcf8f6"/>
<rect x="509.19" y="1017.38" width="52.89" height="37.49" fill="#fefdfd"/>
<rect x="562.07" y="1017.38" width="52.89" height="37.49" fill="#fefdfd"/>
<rect x="614.96" y="1017.38" width="52.89" height="37.49" fill="#fefdfd"/>
<rect x="667.84" y="1017.38" width="52.89" height="37.49" fill="#fefdfd"/>
<rect x="720.73" y="1017.38" width="52.89" height="37.49" fill="#ffffff"/>
<rect x="773.62" y="1017.38" width="52.89" height="37.49" fill="#ffffff"/>
<rect x="826.50" y="1017.38" width="52.89" height="37.49" fill="#fbf4f2"/>
<rect x="879.39" y="1017.38" width="52.89" height="37.49" fill="#fcf8f6"/>
<rect x="932.27" y="1017.38" width="52.89" height="37.49" fill="#fdfaf9"/>
<rect x="985.16" y="1017.38" width="52.89" height="37.49" fill="#fefbfb"/>
<rect x="1038.05" y="1017.38" width="52.89" height="37.49" fill="#ffffff"/>
<rect x="1090.93" y="1017.38" width="52.89" height="37.49" fill="#f9edea"/>
<rect x="1143.82" y="1017.38" width="52.89" height="37.49" fill="#fdfaf9"/>
<rect x="456.30" y="1054.86" width="52.89" height="37.49" fill="#fefbfb"/>
<rect x="509.19" y="1054.86" width="52.89" height="37.49" fill="#ffffff"/>
<rect x="562.07" y="1054.86" width="52.89" height="37.49" fill="#f5fbfa"/>
<rect x="614.96" y="1054.86" width="52.89" height="37.49" fill="#eff8f7"/>
<rect x="667.84" y="1054.86" width="52.89" height="37.49" fill="#eff8f7"/>
<rect x="720.73" y="1054.86" width="52.89" height="37.49" fill="#f9fdfc"/>
<rect x="773.62" y="1054.86" width="52.89" height="37.49" fill="#ffffff"/>
<rect x="826.50" y="1054.86" width="52.89" height="37.49" fill="#f7fcfb"/>
<rect x="879.39" y="1054.86" width="52.89" height="37.49" fill="#fefdfd"/>
<rect x="932.27" y="1054.86" width="52.89" height="37.49" fill="#f0baae"/>
<rect x="985.16" y="1054.86" width="52.89" height="37.49" fill="#fcf6f4"/>
<rect x="1038.05" y="1054.86" width="52.89" height="37.49" fill="#fcf6f4"/>
<rect x="1090.93" y="1054.86" width="52.89" height="37.49" fill="#f9edea"/>
<rect x="1143.82" y="1054.86" width="52.89" height="37.49" fill="#f9edea"/>
<rect x="456.30" y="1092.35" width="52.89" height="37.49" fill="#ffffff"/>
<rect x="509.19" y="1092.35" width="52.89" height="37.49" fill="#ffffff"/>
<rect x="562.07" y="1092.35" width="52.89" height="37.49" fill="#f5fbfa"/>
<rect x="614.96" y="1092.35" width="52.89" height="37.49" fill="#ffffff"/>
<rect x="667.84" y="1092.35" width="52.89" height="37.49" fill="#f9fdfc"/>
<rect x="720.73" y="1092.35" width="52.89" height="37.49" fill="#f7fcfb"/>
<rect x="773.62" y="1092.35" width="52.89" height="37.49" fill="#fbfdfd"/>
<rect x="826.50" y="1092.35" width="52.89" height="37.49" fill="#f3faf9"/>
<rect x="879.39" y="1092.35" width="52.89" height="37.49" fill="#f7fcfb"/>
<rect x="932.27" y="1092.35" width="52.89" height="37.49" fill="#cceae4"/>
<rect x="985.16" y="1092.35" width="52.89" height="37.49" fill="#ffffff"/>
<rect x="1038.05" y="1092.35" width="52.89" height="37.49" fill="#f9fdfc"/>
<rect x="1090.93" y="1092.35" width="52.89" height="37.49" fill="#fbfdfd"/>
<rect x="1143.82" y="1092.35" width="52.89" height="37.49" fill="#fbf2f0"/>
<rect x="456.30" y="1129.84" width="52.89" height="37.49" fill="#fbfdfd"/>
<rect x="509.19" y="1129.84" width="52.89" height="37.49" fill="#fbfdfd"/>
<rect x="562.07" y="1129.84" width="52.89" height="37.49" fill="#fcf8f6"/>
<rect x="614.96" y="1129.84" width="52.89" height="37.49" fill="#f9fdfc"/>
<rect x="667.84" y="1129.84" width="52.89" height="37.49" fill="#fdfaf9"/>
<rect x="720.73" y="1129.84" width="52.89" height="37.49" fill="#faf0ee"/>
<rect x="773.62" y="1129.84" width="52.89" height="37.49" fill="#fcf8f6"/>
<rect x="826.50" y="1129.84" width="52.89" height="37.49" fill="#fefdfd"/>
<rect x="879.39" y="1129.84" width="52.89" height="37.49" fill="#f9fdfc"/>
<rect x="932.27" y="1129.84" width="52.89" height="37.49" fill="#b8e1d9"/>
<rect x="985.16" y="1129.84" width="52.89" height="37.49" fill="#e7f5f2"/>
<rect x="1038.05" y="1129.84" width="52.89" height="37.49" fill="#fbfdfd"/>
<rect x="1090.93" y="1129.84" width="52.89" height="37.49" fill="#e7f5f2"/>
<rect x="1143.82" y="1129.84" width="52.89" height="37.49" fill="#dbf0ec"/>
<rect x="456.30" y="1167.33" width="52.89" height="37.49" fill="#f5fbfa"/>
<rect x="509.19" y="1167.33" width="52.89" height="37.49" fill="#fbfdfd"/>
<rect x="562.07" y="1167.33" width="52.89" height="37.49" fill="#f9fdfc"/>
<rect x="614.96" y="1167.33" width="52.89" height="37.49" fill="#ffffff"/>
<rect x="667.84" y="1167.33" width="52.89" height="37.49" fill="#eff8f7"/>
<rect x="720.73" y="1167.33" width="52.89" height="37.49" fill="#fdfaf9"/>
<rect x="773.62" y="1167.33" width="52.89" height="37.49" fill="#fdfaf9"/>
<rect x="826.50" y="1167.33" width="52.89" height="37.49" fill="#f9edea"/>
<rect x="879.39" y="1167.33" width="52.89" height="37.49" fill="#fefbfb"/>
<rect x="932.27" y="1167.33" width="52.89" height="37.49" fill="#f4d7d0"/>
<rect x="985.16" y="1167.33" width="52.89" height="37.49" fill="#fbf2f0"/>
<rect x="1038.05" y="1167.33" width="52.89" height="37.49" fill="#fcf6f4"/>
<rect x="1090.93" y="1167.33" width="52.89" height="37.49" fill="#ffffff"/>
<rect x="1143.82" y="1167.33" width="52.89" height="37.49" fill="#ffffff"/>
<rect x="456.30" y="1204.82" width="52.89" height="37.49" fill="#fbfdfd"/>
<rect x="509.19" y="1204.82" width="52.89" height="37.49" fill="#fefdfd"/>
<rect x="562.07" y="1204.82" width="52.89" height="37.49" fill="#ffffff"/>
<rect x="614.96" y="1204.82" width="52.89" height="37.49" fill="#fefdfd"/>
<rect x="667.84" y="1204.82" width="52.89" height="37.49" fill="#fcf8f6"/>
<rect x="720.73" y="1204.82" width="52.89" height="37.49" fill="#f9fdfc"/>
<rect x="773.62" y="1204.82" width="52.89" height="37.49" fill="#fbfdfd"/>
<rect x="826.50" y="1204.82" width="52.89" height="37.49" fill="#fcf8f6"/>
<rect x="879.39" y="1204.82" width="52.89" height="37.49" fill="#fefbfb"/>
<rect x="932.27" y="1204.82" width="52.89" height="37.49" fill="#e1f3ef"/>
<rect x="985.16" y="1204.82" width="52.89" height="37.49" fill="#ee735b"/>
<rect x="1038.05" y="1204.82" width="52.89" height="37.49" fill="#f7fcfb"/>
<rect x="1090.93" y="1204.82" width="52.89" height="37.49" fill="#f0b3a5"/>
<rect x="1143.82" y="1204.82" width="52.89" height="37.49" fill="#ffffff"/>
<rect x="456.30" y="1242.30" width="52.89" height="37.49" fill="#fcf8f6"/>
<rect x="509.19" y="1242.30" width="52.89" height="37.49" fill="#ffffff"/>
<rect x="562.07" y="1242.30" width="52.89" height="37.49" fill="#fbf4f2"/>
<rect x="614.96" y="1242.30" width="52.89" height="37.49" fill="#fefdfd"/>
<rect x="667.84" y="1242.30" width="52.89" height="37.49" fill="#faf0ee"/>
<rect x="720.73" y="1242.30" width="52.89" height="37.49" fill="#fefbfb"/>
<rect x="773.62" y="1242.30" width="52.89" height="37.49" fill="#fefdfd"/>
<rect x="826.50" y="1242.30" width="52.89" height="37.49" fill="#f3faf9"/>
<rect x="879.39" y="1242.30" width="52.89" height="37.49" fill="#fbfdfd"/>
<rect x="932.27" y="1242.30" width="52.89" height="37.49" fill="#f4d7d0"/>
<rect x="985.16" y="1242.30" width="52.89" height="37.49" fill="#fbfdfd"/>
<rect x="1038.05" y="1242.30" width="52.89" height="37.49" fill="#fbfdfd"/>
<rect x="1090.93" y="1242.30" width="52.89" height="37.49" fill="#fbf4f2"/>
<rect x="1143.82" y="1242.30" width="52.89" height="37.49" fill="#f5dbd4"/>
<rect x="456.30" y="1279.79" width="52.89" height="37.49" fill="#fcf6f4"/>
<rect x="509.19" y="1279.79" width="52.89" height="37.49" fill="#fdfaf9"/>
<rect x="562.07" y="1279.79" width="52.89" height="37.49" fill="#f1c3b9"/>
<rect x="614.96" y="1279.79" width="52.89" height="37.49" fill="#fefdfd"/>
<rect x="667.84" y="1279.79" width="52.89" height="37.49" fill="#fcf8f6"/>
<rect x="720.73" y="1279.79" width="52.89" height="37.49" fill="#fbf4f2"/>
<rect x="773.62" y="1279.79" width="52.89" height="37.49" fill="#fefbfb"/>
<rect x="826.50" y="1279.79" width="52.89" height="37.49" fill="#fbfdfd"/>
<rect x="879.39" y="1279.79" width="52.89" height="37.49" fill="#f7fcfb"/>
<rect x="932.27" y="1279.79" width="52.89" height="37.49" fill="#fefdfd"/>
<rect x="985.16" y="1279.79" width="52.89" height="37.49" fill="#f9fdfc"/>
<rect x="1038.05" y="1279.79" width="52.89" height="37.49" fill="#ffffff"/>
<rect x="1090.93" y="1279.79" width="52.89" height="37.49" fill="#f7fcfb"/>
<rect x="1143.82" y="1279.79" width="52.89" height="37.49" fill="#e7f5f2"/>
<rect x="456.30" y="1317.28" width="52.89" height="37.49" fill="#ffffff"/>
<rect x="509.19" y="1317.28" width="52.89" height="37.49" fill="#ffffff"/>
<rect x="562.07" y="1317.28" width="52.89" height="37.49" fill="#d7efea"/>
<rect x="614.96" y="1317.28" width="52.89" height="37.49" fill="#f9fdfc"/>
<rect x="667.84" y="1317.28" width="52.89" height="37.49" fill="#f5fbfa"/>
<rect x="720.73" y="1317.28" width="52.89" height="37.49" fill="#f5fbfa"/>
<rect x="773.62" y="1317.28" width="52.89" height="37.49" fill="#f1f9f8"/>
<rect x="826.50" y="1317.28" width="52.89" height="37.49" fill="#f9edea"/>
<rect x="879.39" y="1317.28" width="52.89" height="37.49" fill="#fefdfd"/>
<rect x="932.27" y="1317.28" width="52.89" height="37.49" fill="#ebf7f4"/>
<rect x="985.16" y="1317.28" width="52.89" height="37.49" fill="#ebf7f4"/>
<rect x="1038.05" y="1317.28" width="52.89" height="37.49" fill="#fefdfd"/>
<rect x="1090.93" y="1317.28" width="52.89" height="37.49" fill="#f6e0db"/>
<rect x="1143.82" y="1317.28" width="52.89" height="37.49" fill="#dbf0ec"/>
<rect x="456.30" y="1354.77" width="52.89" height="37.49" fill="#fdfefe"/>
<rect x="509.19" y="1354.77" width="52.89" height="37.49" fill="#fefbfb"/>
<rect x="562.07" y="1354.77" width="52.89" height="37.49" fill="#f5fbfa"/>
<rect x="614.96" y="1354.77" width="52.89" height="37.49" fill="#fdfefe"/>
<rect x="667.84" y="1354.77" width="52.89" height="37.49" fill="#ffffff"/>
<rect x="720.73" y="1354.77" width="52.89" height="37.49" fill="#fbfdfd"/>
<rect x="773.62" y="1354.77" width="52.89" height="37.49" fill="#f7fcfb"/>
<rect x="826.50" y="1354.77" width="52.89" height="37.49" fill="#fcf8f6"/>
<rect x="879.39" y="1354.77" width="52.89" height="37.49" fill="#ffffff"/>
<rect x="932.27" y="1354.77" width="52.89" height="37.49" fill="#e7f5f2"/>
<rect x="985.16" y="1354.77" width="52.89" height="37.49" fill="#fdfefe"/>
<rect x="1038.05" y="1354.77" width="52.89" height="37.49" fill="#fefbfb"/>
<rect x="1090.93" y="1354.77" width="52.89" height="37.49" fill="#ffffff"/>
<rect x="1143.82" y="1354.77" width="52.89" height="37.49" fill="#f5fbfa"/>
<rect x="456.30" y="1392.26" width="52.89" height="37.49" fill="#ffffff"/>
<rect x="509.19" y="1392.26" width="52.89" height="37.49" fill="#fdfefe"/>
<rect x="562.07" y="1392.26" width="52.89" height="37.49" fill="#fdfaf9"/>
<rect x="614.96" y="1392.26" width="52.89" height="37.49" fill="#fcf8f6"/>
<rect x="667.84" y="1392.26" width="52.89" height="37.49" fill="#ffffff"/>
<rect x="720.73" y="1392.26" width="52.89" height="37.49" fill="#ffffff"/>
<rect x="773.62" y="1392.26" width="52.89" height="37.49" fill="#fdfaf9"/>
<rect x="826.50" y="1392.26" width="52.89" height="37.49" fill="#f1f9f8"/>
<rect x="879.39" y="1392.26" width="52.89" height="37.49" fill="#ffffff"/>
<rect x="932.27" y="1392.26" width="52.89" height="37.49" fill="#fdfaf9"/>
<rect x="985.16" y="1392.26" width="52.89" height="37.49" fill="#fdfaf9"/>
<rect x="1038.05" y="1392.26" width="52.89" height="37.49" fill="#f9fdfc"/>
<rect x="1090.93" y="1392.26" width="52.89" height="37.49" fill="#f5fbfa"/>
<rect x="1143.82" y="1392.26" width="52.89" height="37.49" fill="#fbf4f2"/>
<rect x="456.30" y="1429.74" width="52.89" height="37.49" fill="#fefbfb"/>
<rect x="509.19" y="1429.74" width="52.89" height="37.49" fill="#fbfdfd"/>
<rect x="562.07" y="1429.74" width="52.89" height="37.49" fill="#faf0ee"/>
<rect x="614.96" y="1429.74" width="52.89" height="37.49" fill="#fcf6f4"/>
<rect x="667.84" y="1429.74" width="52.89" height="37.49" fill="#fbf2f0"/>
<rect x="720.73" y="1429.74" width="52.89" height="37.49" fill="#f7e6e1"/>
<rect x="773.62" y="1429.74" width="52.89" height="37.49" fill="#f9edea"/>
<rect x="826.50" y="1429.74" width="52.89" height="37.49" fill="#f4d7d0"/>
<rect x="879.39" y="1429.74" width="52.89" height="37.49" fill="#f9fdfc"/>
<rect x="932.27" y="1429.74" width="52.89" height="37.49" fill="#f9fdfc"/>
<rect x="985.16" y="1429.74" width="52.89" height="37.49" fill="#e1f3ef"/>
<rect x="1038.05" y="1429.74" width="52.89" height="37.49" fill="#fdfaf9"/>
<rect x="1090.93" y="1429.74" width="52.89" height="37.49" fill="#d7efea"/>
<rect x="1143.82" y="1429.74" width="52.89" height="37.49" fill="#d3ede8"/>
<rect x="456.30" y="1467.23" width="52.89" height="37.49" fill="#f6ded9"/>
<rect x="509.19" y="1467.23" width="52.89" height="37.49" fill="#f6e0db"/>
<rect x="562.07" y="1467.23" width="52.89" height="37.49" fill="#f6e0db"/>
<rect x="614.96" y="1467.23" width="52.89" height="37.49" fill="#f3d0c8"/>
<rect x="667.84" y="1467.23" width="52.89" height="37.49" fill="#f6e0db"/>
<rect x="720.73" y="1467.23" width="52.89" height="37.49" fill="#efa99b"/>
<rect x="773.62" y="1467.23" width="52.89" height="37.49" fill="#f0baae"/>
<rect x="826.50" y="1467.23" width="52.89" height="37.49" fill="#ee7c65"/>
<rect x="879.39" y="1467.23" width="52.89" height="37.49" fill="#f3d2ca"/>
<rect x="932.27" y="1467.23" width="52.89" height="37.49" fill="#ee816c"/>
<rect x="985.16" y="1467.23" width="52.89" height="37.49" fill="#f3cec5"/>
<rect x="1038.05" y="1467.23" width="52.89" height="37.49" fill="#f0b3a5"/>
<rect x="1090.93" y="1467.23" width="52.89" height="37.49" fill="#f5dcd6"/>
<rect x="1143.82" y="1467.23" width="52.89" height="37.49" fill="#fbfdfd"/>
<path d="M456.30 3.85V1506.07M509.19 3.85V1506.07M562.07 3.85V1506.07M614.96 3.85V1506.07M667.84 3.85V1506.07M720.73 3.85V1506.07M773.62 3.85V1506.07M826.50 3.85V1506.07M879.39 3.85V1506.07M932.27 3.85V1506.07M985.16 3.85V1506.07M1038.05 3.85V1506.07M1090.93 3.85V1506.07M1143.82 3.85V1506.07M1196.70 3.85V1506.07M454.95 5.20H1198.05M454.95 42.69H1198.05M454.95 80.18H1198.05M454.95 117.66H1198.05M454.95 155.15H1198.05M454.95 192.64H1198.05M454.95 230.13H1198.05M454.95 267.62H1198.05M454.95 305.10H1198.05M454.95 342.59H1198.05M454.95 380.08H1198.05M454.95 417.57H1198.05M454.95 455.06H1198.05M454.95 492.54H1198.05M454.95 530.03H1198.05M454.95 567.52H1198.05M454.95 605.01H1198.05M454.95 642.50H1198.05M454.95 679.98H1198.05M454.95 717.47H1198.05M454.95 754.96H1198.05M454.95 792.45H1198.05M454.95 829.94H1198.05M454.95 867.42H1198.05M454.95 904.91H1198.05M454.95 942.40H1198.05M454.95 979.89H1198.05M454.95 1017.38H1198.05M454.95 1054.86H1198.05M454.95 1092.35H1198.05M454.95 1129.84H1198.05M454.95 1167.33H1198.05M454.95 1204.82H1198.05M454.95 1242.30H1198.05M454.95 1279.79H1198.05M454.95 1317.28H1198.05M454.95 1354.77H1198.05M454.95 1392.26H1198.05M454.95 1429.74H1198.05M454.95 1467.23H1198.05M454.95 1504.72H1198.05" stroke="#000" stroke-width="2.7" fill="none"/>
<path d="M447.95 23.94H454.95M447.95 61.43H454.95M447.95 98.92H454.95M447.95 136.41H454.95M447.95 173.90H454.95M447.95 211.38H454.95M447.95 248.87H454.95M447.95 286.36H454.95M447.95 323.85H454.95M447.95 361.34H454.95M447.95 398.82H454.95M447.95 436.31H454.95M447.95 473.80H454.95M447.95 511.29H454.95M447.95 548.78H454.95M447.95 586.26H454.95M447.95 623.75H454.95M447.95 661.24H454.95M447.95 698.73H454.95M447.95 736.22H454.95M447.95 773.70H454.95M447.95 811.19H454.95M447.95 848.68H454.95M447.95 886.17H454.95M447.95 923.66H454.95M447.95 961.14H454.95M447.95 998.63H454.95M447.95 1036.12H454.95M447.95 1073.61H454.95M447.95 1111.10H454.95M447.95 1148.58H454.95M447.95 1186.07H454.95M447.95 1223.56H454.95M447.95 1261.05H454.95M447.95 1298.54H454.95M447.95 1336.02H454.95M447.95 1373.51H454.95M447.95 1411.00H454.95M447.95 1448.49H454.95M447.95 1485.98H454.95M482.74 1506.07V1513.07M535.63 1506.07V1513.07M588.51 1506.07V1513.07M641.40 1506.07V1513.07M694.29 1506.07V1513.07M747.17 1506.07V1513.07M800.06 1506.07V1513.07M852.95 1506.07V1513.07M905.83 1506.07V1513.07M958.72 1506.07V1513.07M1011.60 1506.07V1513.07M1064.49 1506.07V1513.07M1117.38 1506.07V1513.07M1170.26 1506.07V1513.07" stroke="#000" stroke-width="1.6" fill="none"/>
<text transform="translate(443.45 27.94) scale(1 1.03)" font-size="22.7" text-anchor="end">Adipose_Subcutaneous</text>
<text transform="translate(443.45 65.43) scale(1 1.03)" font-size="22.7" text-anchor="end">Adipose_Visceral_Omentum</text>
<text transform="translate(443.45 102.92) scale(1 1.03)" font-size="22.7" text-anchor="end">Adrenal_Gland</text>
<text transform="translate(443.45 140.41) scale(1 1.03)" font-size="22.7" text-anchor="end">Artery_Aorta</text>
<text transform="translate(443.45 177.90) scale(1 1.03)" font-size="22.7" text-anchor="end">Artery_Coronary</text>
<text transform="translate(443.45 215.38) scale(1 1.03)" font-size="22.7" text-anchor="end">Artery_Tibial</text>
<text transform="translate(443.45 252.87) scale(1 1.03)" font-size="22.7" text-anchor="end">Brain_Limbic</text>
<text transform="translate(443.45 290.36) scale(1 1.03)" font-size="22.7" text-anchor="end">Brain_Cortex</text>
<text transform="translate(443.45 327.85) scale(1 1.03)" font-size="22.7" text-anchor="end">Brain_BasalGanglia</text>
<text transform="translate(443.45 365.34) scale(1 1.03)" font-size="22.7" text-anchor="end">Brain_Cerebellum</text>
<text transform="translate(443.45 402.82) scale(1 1.03)" font-size="22.7" text-anchor="end">Brain_Spinal_cord_cervical_c-1</text>
<text transform="translate(443.45 440.31) scale(1 1.03)" font-size="22.7" text-anchor="end">Brain_Substantia_nigra</text>
<text transform="translate(443.45 477.80) scale(1 1.03)" font-size="22.7" text-anchor="end">Breast_Mammary_Tissue</text>
<text transform="translate(443.45 515.29) scale(1 1.03)" font-size="22.7" text-anchor="end">Cells_EBV-transformed_lymphocytes</text>
<text transform="translate(443.45 552.78) scale(1 1.03)" font-size="22.7" text-anchor="end">Cells_Cultured_fibroblasts</text>
<text transform="translate(443.45 590.26) scale(1 1.03)" font-size="22.7" text-anchor="end">Colon_Sigmoid</text>
<text transform="translate(443.45 627.75) scale(1 1.03)" font-size="22.7" text-anchor="end">Colon_Transverse</text>
<text transform="translate(443.45 665.24) scale(1 1.03)" font-size="22.7" text-anchor="end">Esophagus_Mucosa</text>
<text transform="translate(443.45 702.73) scale(1 1.03)" font-size="22.7" text-anchor="end">Esophagus_Muscularis</text>
<text transform="translate(443.45 740.22) scale(1 1.03)" font-size="22.7" text-anchor="end">Heart_Atrial_Appendage</text>
<text transform="translate(443.45 777.70) scale(1 1.03)" font-size="22.7" text-anchor="end">Heart_Left_Ventricle</text>
<text transform="translate(443.45 815.19) scale(1 1.03)" font-size="22.7" text-anchor="end">Liver</text>
<text transform="translate(443.45 852.68) scale(1 1.03)" font-size="22.7" text-anchor="end">Lung</text>
<text transform="translate(443.45 890.17) scale(1 1.03)" font-size="22.7" text-anchor="end">Minor_Salivary_Gland</text>
<text transform="translate(443.45 927.66) scale(1 1.03)" font-size="22.7" text-anchor="end">Muscle_Skeletal</text>
<text transform="translate(443.45 965.14) scale(1 1.03)" font-size="22.7" text-anchor="end">Nerve_Tibial</text>
<text transform="translate(443.45 1002.63) scale(1 1.03)" font-size="22.7" text-anchor="end">Ovary</text>
<text transform="translate(443.45 1040.12) scale(1 1.03)" font-size="22.7" text-anchor="end">Pancreas</text>
<text transform="translate(443.45 1077.61) scale(1 1.03)" font-size="22.7" text-anchor="end">Pituitary</text>
<text transform="translate(443.45 1115.10) scale(1 1.03)" font-size="22.7" text-anchor="end">Prostate</text>
<text transform="translate(443.45 1152.58) scale(1 1.03)" font-size="22.7" text-anchor="end">Skin_Not_Sun_Exposed_Suprapubic</text>
<text transform="translate(443.45 1190.07) scale(1 1.03)" font-size="22.7" text-anchor="end">Skin_Sun_Exposed_Lower_leg</text>
<text transform="translate(443.45 1227.56) scale(1 1.03)" font-size="22.7" text-anchor="end">Spleen</text>
<text transform="translate(443.45 1265.05) scale(1 1.03)" font-size="22.7" text-anchor="end">Stomach</text>
<text transform="translate(443.45 1302.54) scale(1 1.03)" font-size="22.7" text-anchor="end">Testis</text>
<text transform="translate(443.45 1340.02) scale(1 1.03)" font-size="22.7" text-anchor="end">Thyroid</text>
<text transform="translate(443.45 1377.51) scale(1 1.03)" font-size="22.7" text-anchor="end">Uterus</text>
<text transform="translate(443.45 1415.00) scale(1 1.03)" font-size="22.7" text-anchor="end">Vagina</text>
<text transform="translate(443.45 1452.49) scale(1 1.03)" font-size="22.7" text-anchor="end">Whole_Blood</text>
<text transform="translate(443.45 1489.98) scale(1 1.03)" font-size="22.7" text-anchor="end">AllTissues</text>
<text x="641.40" y="29.94" font-size="19.5" text-anchor="middle" fill="#333">**</text>
<text x="852.95" y="104.92" font-size="19.5" text-anchor="middle" fill="#333">*</text>
<text x="905.83" y="142.41" font-size="19.5" text-anchor="middle" fill="#333">*</text>
<text x="958.72" y="142.41" font-size="19.5" text-anchor="middle" fill="#333">*</text>
<text x="482.74" y="217.38" font-size="19.5" text-anchor="middle" fill="#333">*</text>
<text x="535.63" y="367.34" font-size="19.5" text-anchor="middle" fill="#333">*</text>
<text x="694.29" y="404.82" font-size="19.5" text-anchor="middle" fill="#333">*</text>
<text x="1117.38" y="404.82" font-size="19.5" text-anchor="middle" fill="#333">*</text>
<text x="1170.26" y="404.82" font-size="19.5" text-anchor="middle" fill="#333">**</text>
<text x="800.06" y="554.78" font-size="19.5" text-anchor="middle" fill="#333">**</text>
<text x="905.83" y="554.78" font-size="19.5" text-anchor="middle" fill="#333">*</text>
<text x="905.83" y="592.26" font-size="19.5" text-anchor="middle" fill="#333">**</text>
<text x="1064.49" y="629.75" font-size="19.5" text-anchor="middle" fill="#333">*</text>
<text x="1170.26" y="704.73" font-size="19.5" text-anchor="middle" fill="#333">*</text>
<text x="588.51" y="779.70" font-size="19.5" text-anchor="middle" fill="#333">*</text>
<text x="1011.60" y="817.19" font-size="19.5" text-anchor="middle" fill="#333">*</text>
<text x="1117.38" y="892.17" font-size="19.5" text-anchor="middle" fill="#333">**</text>
<text x="958.72" y="929.66" font-size="19.5" text-anchor="middle" fill="#333">*</text>
<text x="1064.49" y="929.66" font-size="19.5" text-anchor="middle" fill="#333">*</text>
<text x="905.83" y="1042.12" font-size="19.5" text-anchor="middle" fill="#333">*</text>
<text x="588.51" y="1304.54" font-size="19.5" text-anchor="middle" fill="#333">*</text>
<text x="641.40" y="1417.00" font-size="19.5" text-anchor="middle" fill="#333">*</text>
<text x="588.51" y="1454.49" font-size="19.5" text-anchor="middle" fill="#333">*</text>
<text x="641.40" y="1454.49" font-size="19.5" text-anchor="middle" fill="#333">*</text>
<text x="747.17" y="1454.49" font-size="19.5" text-anchor="middle" fill="#333">*</text>
<text x="800.06" y="1454.49" font-size="19.5" text-anchor="middle" fill="#333">*</text>
<text x="852.95" y="1454.49" font-size="19.5" text-anchor="middle" fill="#333">*</text>
<text x="482.74" y="1491.98" font-size="19.5" text-anchor="middle" fill="#333">***</text>
<text x="535.63" y="1491.98" font-size="19.5" text-anchor="middle" fill="#333">***</text>
<text x="588.51" y="1491.98" font-size="19.5" text-anchor="middle" fill="#333">*</text>
<text x="641.40" y="1491.98" font-size="19.5" text-anchor="middle" fill="#333">***</text>
<text x="694.29" y="1491.98" font-size="19.5" text-anchor="middle" fill="#333">**</text>
<text x="747.17" y="1491.98" font-size="19.5" text-anchor="middle" fill="#333">***</text>
<text x="800.06" y="1491.98" font-size="19.5" text-anchor="middle" fill="#333">***</text>
<text x="852.95" y="1491.98" font-size="19.5" text-anchor="middle" fill="#333">***</text>
<text x="905.83" y="1491.98" font-size="19.5" text-anchor="middle" fill="#333">***</text>
<text x="958.72" y="1491.98" font-size="19.5" text-anchor="middle" fill="#333">**</text>
<text x="1011.60" y="1491.98" font-size="19.5" text-anchor="middle" fill="#333">*</text>
<text x="1064.49" y="1491.98" font-size="19.5" text-anchor="middle" fill="#333">***</text>
<text transform="translate(488.74 1528.92) rotate(-45) scale(1 1.03)" font-size="22.7" text-anchor="end">IBS</text>
<text transform="translate(541.63 1528.92) rotate(-45) scale(1 1.03)" font-size="22.7" text-anchor="end">GERD</text>
<text transform="translate(594.51 1528.92) rotate(-45) scale(1 1.03)" font-size="22.7" text-anchor="end">PU</text>
<text transform="translate(647.40 1528.92) rotate(-45) scale(1 1.03)" font-size="22.7" text-anchor="end">DD</text>
<text transform="translate(700.29 1528.92) rotate(-45) scale(1 1.03)" font-size="22.7" text-anchor="end">GD</text>
<text transform="translate(753.17 1528.92) rotate(-45) scale(1 1.03)" font-size="22.7" text-anchor="end">IBD</text>
<text transform="translate(806.06 1528.92) rotate(-45) scale(1 1.03)" font-size="22.7" text-anchor="end">UC</text>
<text transform="translate(858.95 1528.92) rotate(-45) scale(1 1.03)" font-size="22.7" text-anchor="end">CD</text>
<text transform="translate(911.83 1528.92) rotate(-45) scale(1 1.03)" font-size="22.7" text-anchor="end">SF</text>
<text transform="translate(964.72 1528.92) rotate(-45) scale(1 1.03)" font-size="22.7" text-anchor="end">NAFLD</text>
<text transform="translate(1017.60 1528.92) rotate(-45) scale(1 1.03)" font-size="22.7" text-anchor="end">CL&amp;CC</text>
<text transform="translate(1070.49 1528.92) rotate(-45) scale(1 1.03)" font-size="22.7" text-anchor="end">CRC</text>
<text transform="translate(1123.38 1528.92) rotate(-45) scale(1 1.03)" font-size="22.7" text-anchor="end">AP</text>
<text transform="translate(1176.26 1528.92) rotate(-45) scale(1 1.03)" font-size="22.7" text-anchor="end">APP</text>
<defs><linearGradient id="ga" x1="0" y1="0" x2="0" y2="1"><stop offset="0.0000" stop-color="#ee735b"/><stop offset="0.0495" stop-color="#ee816b"/><stop offset="0.0989" stop-color="#ee8f7c"/><stop offset="0.1484" stop-color="#ee9d8c"/><stop offset="0.1979" stop-color="#efab9d"/><stop offset="0.2473" stop-color="#f0b9ad"/><stop offset="0.2968" stop-color="#f2c7bd"/><stop offset="0.3463" stop-color="#f4d5ce"/><stop offset="0.3957" stop-color="#f7e3de"/><stop offset="0.4452" stop-color="#faf1ef"/><stop offset="0.4947" stop-color="#ffffff"/><stop offset="0.5452" stop-color="#f4faf9"/><stop offset="0.5957" stop-color="#e8f6f3"/><stop offset="0.6463" stop-color="#ddf1ed"/><stop offset="0.6968" stop-color="#d2ece7"/><stop offset="0.7473" stop-color="#c6e8e1"/><stop offset="0.7979" stop-color="#bbe3db"/><stop offset="0.8484" stop-color="#b0ded5"/><stop offset="0.8989" stop-color="#a5d9cf"/><stop offset="0.9495" stop-color="#99d5c9"/><stop offset="1.0000" stop-color="#8ed0c3"/></linearGradient></defs>
<rect x="1296.0" y="35.9" width="36.40000000000009" height="420.70000000000005" fill="url(#ga)"/>
<text transform="translate(1287.50 51.00) scale(1 1.03)" font-size="22.7" text-anchor="end">0.6</text>
<text transform="translate(1287.50 117.60) scale(1 1.03)" font-size="22.7" text-anchor="end">0.4</text>
<text transform="translate(1287.50 183.90) scale(1 1.03)" font-size="22.7" text-anchor="end">0.2</text>
<text transform="translate(1287.50 250.40) scale(1 1.03)" font-size="22.7" text-anchor="end">0</text>
<text transform="translate(1287.50 328.10) scale(1 1.03)" font-size="22.7" text-anchor="end">-0.2</text>
<text transform="translate(1287.50 405.90) scale(1 1.03)" font-size="22.7" text-anchor="end">-0.4</text>
<text transform="translate(1287.50 456.50) scale(1 1.03)" font-size="22.7" text-anchor="end">-0.53</text>
<path d="M1288.50 44.40H1296.00M1288.50 111.00H1296.00M1288.50 177.30H1296.00M1288.50 243.80H1296.00M1288.50 321.50H1296.00M1288.50 399.30H1296.00M1288.50 449.90H1296.00" stroke="#000" stroke-width="1.6" fill="none"/>
<g fill="#000"><rect x="1293.40" y="9.20" width="18.40" height="3.20" rx="1.60"/><rect x="1296.90" y="10.80" width="3.40" height="11.30"/><rect x="1305.00" y="10.80" width="3.40" height="11.30"/></g>
<text x="1312.10" y="29.90" font-size="14.00" font-weight="bold">t</text>
<path d="M1319.50 20.40L1318.50 22.40" stroke="#000" stroke-width="1.80" stroke-linecap="round"/>
<path fill="#000" fill-rule="evenodd" d="M4.7 25.2C6.5 19.3 12.5 15.6 22.5 15.6C33 15.6 40.6 18.5 40.6 26L40.6 42C40.6 45 41.5 47.5 42.9 49.5L31.6 49.5L30 46C27 48.8 22.5 50.3 17 50.3C8 50.3 2.8 46.5 2.8 40.7C2.8 34.5 8 31.8 17 30.6L25.5 29.5C28 29.1 29.2 28.5 29.2 26.5C29.2 23.5 26.5 22 22.2 22C18 22 15.2 23.3 14.4 26.5Z M29.2 34C27.5 35 24.5 35.6 21 36.1C16.8 36.7 14.4 38 14.4 40.4C14.4 42.9 16.6 44.3 20 44.3C25.4 44.3 29.2 41.5 29.2 37Z"/>
<rect x="462.50" y="1653.20" width="50.71" height="54.56" fill="#f7fcfb"/>
<rect x="513.21" y="1653.20" width="50.71" height="54.56" fill="#ffffff"/>
<rect x="563.93" y="1653.20" width="50.71" height="54.56" fill="#ebf7f4"/>
<rect x="614.64" y="1653.20" width="50.71" height="54.56" fill="#ffffff"/>
<rect x="665.36" y="1653.20" width="50.71" height="54.56" fill="#ffffff"/>
<rect x="716.07" y="1653.20" width="50.71" height="54.56" fill="#fbfdfd"/>
<rect x="766.78" y="1653.20" width="50.71" height="54.56" fill="#fefdfd"/>
<rect x="817.50" y="1653.20" width="50.71" height="54.56" fill="#eff8f7"/>
<rect x="868.21" y="1653.20" width="50.71" height="54.56" fill="#f7fcfb"/>
<rect x="918.93" y="1653.20" width="50.71" height="54.56" fill="#faf0ee"/>
<rect x="969.64" y="1653.20" width="50.71" height="54.56" fill="#f9fdfc"/>
<rect x="1020.35" y="1653.20" width="50.71" height="54.56" fill="#ffffff"/>
<rect x="1071.07" y="1653.20" width="50.71" height="54.56" fill="#fbf4f2"/>
<rect x="1121.78" y="1653.20" width="50.71" height="54.56" fill="#c4e6e0"/>
<rect x="462.50" y="1707.76" width="50.71" height="54.56" fill="#fefbfb"/>
<rect x="513.21" y="1707.76" width="50.71" height="54.56" fill="#fbfdfd"/>
<rect x="563.93" y="1707.76" width="50.71" height="54.56" fill="#f9fdfc"/>
<rect x="614.64" y="1707.76" width="50.71" height="54.56" fill="#f9fdfc"/>
<rect x="665.36" y="1707.76" width="50.71" height="54.56" fill="#f9fdfc"/>
<rect x="716.07" y="1707.76" width="50.71" height="54.56" fill="#ffffff"/>
<rect x="766.78" y="1707.76" width="50.71" height="54.56" fill="#ffffff"/>
<rect x="817.50" y="1707.76" width="50.71" height="54.56" fill="#fbf2f0"/>
<rect x="868.21" y="1707.76" width="50.71" height="54.56" fill="#fefbfb"/>
<rect x="918.93" y="1707.76" width="50.71" height="54.56" fill="#f2c8bf"/>
<rect x="969.64" y="1707.76" width="50.71" height="54.56" fill="#f9fdfc"/>
<rect x="1020.35" y="1707.76" width="50.71" height="54.56" fill="#f9fdfc"/>
<rect x="1071.07" y="1707.76" width="50.71" height="54.56" fill="#f9edea"/>
<rect x="1121.78" y="1707.76" width="50.71" height="54.56" fill="#fefbfb"/>
<rect x="462.50" y="1762.31" width="50.71" height="54.56" fill="#fefdfd"/>
<rect x="513.21" y="1762.31" width="50.71" height="54.56" fill="#fefbfb"/>
<rect x="563.93" y="1762.31" width="50.71" height="54.56" fill="#f9edea"/>
<rect x="614.64" y="1762.31" width="50.71" height="54.56" fill="#fefdfd"/>
<rect x="665.36" y="1762.31" width="50.71" height="54.56" fill="#f9edea"/>
<rect x="716.07" y="1762.31" width="50.71" height="54.56" fill="#fbf2f0"/>
<rect x="766.78" y="1762.31" width="50.71" height="54.56" fill="#fcf6f4"/>
<rect x="817.50" y="1762.31" width="50.71" height="54.56" fill="#f9edea"/>
<rect x="868.21" y="1762.31" width="50.71" height="54.56" fill="#ffffff"/>
<rect x="918.93" y="1762.31" width="50.71" height="54.56" fill="#f2ccc3"/>
<rect x="969.64" y="1762.31" width="50.71" height="54.56" fill="#f9edea"/>
<rect x="1020.35" y="1762.31" width="50.71" height="54.56" fill="#f9edea"/>
<rect x="1071.07" y="1762.31" width="50.71" height="54.56" fill="#f6ded9"/>
<rect x="1121.78" y="1762.31" width="50.71" height="54.56" fill="#ffffff"/>
<rect x="462.50" y="1816.87" width="50.71" height="54.56" fill="#ffffff"/>
<rect x="513.21" y="1816.87" width="50.71" height="54.56" fill="#f9fdfc"/>
<rect x="563.93" y="1816.87" width="50.71" height="54.56" fill="#ebf7f4"/>
<rect x="614.64" y="1816.87" width="50.71" height="54.56" fill="#fbfdfd"/>
<rect x="665.36" y="1816.87" width="50.71" height="54.56" fill="#fbf2f0"/>
<rect x="716.07" y="1816.87" width="50.71" height="54.56" fill="#faf0ee"/>
<rect x="766.78" y="1816.87" width="50.71" height="54.56" fill="#fbf2f0"/>
<rect x="817.50" y="1816.87" width="50.71" height="54.56" fill="#f8e9e5"/>
<rect x="868.21" y="1816.87" width="50.71" height="54.56" fill="#ffffff"/>
<rect x="918.93" y="1816.87" width="50.71" height="54.56" fill="#f8e9e5"/>
<rect x="969.64" y="1816.87" width="50.71" height="54.56" fill="#fefbfb"/>
<rect x="1020.35" y="1816.87" width="50.71" height="54.56" fill="#fbfdfd"/>
<rect x="1071.07" y="1816.87" width="50.71" height="54.56" fill="#ebf7f4"/>
<rect x="1121.78" y="1816.87" width="50.71" height="54.56" fill="#f8e7e3"/>
<rect x="462.50" y="1871.43" width="50.71" height="54.56" fill="#fdfaf9"/>
<rect x="513.21" y="1871.43" width="50.71" height="54.56" fill="#f9edea"/>
<rect x="563.93" y="1871.43" width="50.71" height="54.56" fill="#f9edea"/>
<rect x="614.64" y="1871.43" width="50.71" height="54.56" fill="#faf0ee"/>
<rect x="665.36" y="1871.43" width="50.71" height="54.56" fill="#eff8f7"/>
<rect x="716.07" y="1871.43" width="50.71" height="54.56" fill="#f9edea"/>
<rect x="766.78" y="1871.43" width="50.71" height="54.56" fill="#faf0ee"/>
<rect x="817.50" y="1871.43" width="50.71" height="54.56" fill="#f6ded9"/>
<rect x="868.21" y="1871.43" width="50.71" height="54.56" fill="#fbf4f2"/>
<rect x="918.93" y="1871.43" width="50.71" height="54.56" fill="#f8e9e5"/>
<rect x="969.64" y="1871.43" width="50.71" height="54.56" fill="#fbf2f0"/>
<rect x="1020.35" y="1871.43" width="50.71" height="54.56" fill="#f7e4df"/>
<rect x="1071.07" y="1871.43" width="50.71" height="54.56" fill="#f8e9e5"/>
<rect x="1121.78" y="1871.43" width="50.71" height="54.56" fill="#d7efea"/>
<rect x="462.50" y="1925.99" width="50.71" height="54.56" fill="#fcf8f6"/>
<rect x="513.21" y="1925.99" width="50.71" height="54.56" fill="#fcf6f4"/>
<rect x="563.93" y="1925.99" width="50.71" height="54.56" fill="#fcf6f4"/>
<rect x="614.64" y="1925.99" width="50.71" height="54.56" fill="#fefdfd"/>
<rect x="665.36" y="1925.99" width="50.71" height="54.56" fill="#fdfaf9"/>
<rect x="716.07" y="1925.99" width="50.71" height="54.56" fill="#f8e7e3"/>
<rect x="766.78" y="1925.99" width="50.71" height="54.56" fill="#f7e4df"/>
<rect x="817.50" y="1925.99" width="50.71" height="54.56" fill="#f8e7e3"/>
<rect x="868.21" y="1925.99" width="50.71" height="54.56" fill="#fcf6f4"/>
<rect x="918.93" y="1925.99" width="50.71" height="54.56" fill="#f9edea"/>
<rect x="969.64" y="1925.99" width="50.71" height="54.56" fill="#f5fbfa"/>
<rect x="1020.35" y="1925.99" width="50.71" height="54.56" fill="#f9edea"/>
<rect x="1071.07" y="1925.99" width="50.71" height="54.56" fill="#f8e9e5"/>
<rect x="1121.78" y="1925.99" width="50.71" height="54.56" fill="#e7f5f2"/>
<rect x="462.50" y="1980.54" width="50.71" height="54.56" fill="#fefbfb"/>
<rect x="513.21" y="1980.54" width="50.71" height="54.56" fill="#fefbfb"/>
<rect x="563.93" y="1980.54" width="50.71" height="54.56" fill="#fefbfb"/>
<rect x="614.64" y="1980.54" width="50.71" height="54.56" fill="#fefdfd"/>
<rect x="665.36" y="1980.54" width="50.71" height="54.56" fill="#fefdfd"/>
<rect x="716.07" y="1980.54" width="50.71" height="54.56" fill="#f9fdfc"/>
<rect x="766.78" y="1980.54" width="50.71" height="54.56" fill="#f5fbfa"/>
<rect x="817.50" y="1980.54" width="50.71" height="54.56" fill="#ffffff"/>
<rect x="868.21" y="1980.54" width="50.71" height="54.56" fill="#fefdfd"/>
<rect x="918.93" y="1980.54" width="50.71" height="54.56" fill="#8ed0c3"/>
<rect x="969.64" y="1980.54" width="50.71" height="54.56" fill="#fcf8f6"/>
<rect x="1020.35" y="1980.54" width="50.71" height="54.56" fill="#fbfdfd"/>
<rect x="1071.07" y="1980.54" width="50.71" height="54.56" fill="#f5fbfa"/>
<rect x="1121.78" y="1980.54" width="50.71" height="54.56" fill="#efa899"/>
<rect x="462.50" y="2035.10" width="50.71" height="54.56" fill="#fefdfd"/>
<rect x="513.21" y="2035.10" width="50.71" height="54.56" fill="#ffffff"/>
<rect x="563.93" y="2035.10" width="50.71" height="54.56" fill="#ffffff"/>
<rect x="614.64" y="2035.10" width="50.71" height="54.56" fill="#faf0ee"/>
<rect x="665.36" y="2035.10" width="50.71" height="54.56" fill="#f3faf9"/>
<rect x="716.07" y="2035.10" width="50.71" height="54.56" fill="#f5fbfa"/>
<rect x="766.78" y="2035.10" width="50.71" height="54.56" fill="#f3faf9"/>
<rect x="817.50" y="2035.10" width="50.71" height="54.56" fill="#ffffff"/>
<rect x="868.21" y="2035.10" width="50.71" height="54.56" fill="#fbfdfd"/>
<rect x="918.93" y="2035.10" width="50.71" height="54.56" fill="#acdcd3"/>
<rect x="969.64" y="2035.10" width="50.71" height="54.56" fill="#ffffff"/>
<rect x="1020.35" y="2035.10" width="50.71" height="54.56" fill="#fefdfd"/>
<rect x="1071.07" y="2035.10" width="50.71" height="54.56" fill="#ebf7f4"/>
<rect x="1121.78" y="2035.10" width="50.71" height="54.56" fill="#f4d7d0"/>
<rect x="462.50" y="2089.66" width="50.71" height="54.56" fill="#f7fcfb"/>
<rect x="513.21" y="2089.66" width="50.71" height="54.56" fill="#f9fdfc"/>
<rect x="563.93" y="2089.66" width="50.71" height="54.56" fill="#e7f5f2"/>
<rect x="614.64" y="2089.66" width="50.71" height="54.56" fill="#fefbfb"/>
<rect x="665.36" y="2089.66" width="50.71" height="54.56" fill="#f9fdfc"/>
<rect x="716.07" y="2089.66" width="50.71" height="54.56" fill="#faf0ee"/>
<rect x="766.78" y="2089.66" width="50.71" height="54.56" fill="#fcf6f4"/>
<rect x="817.50" y="2089.66" width="50.71" height="54.56" fill="#fbf2f0"/>
<rect x="868.21" y="2089.66" width="50.71" height="54.56" fill="#fefdfd"/>
<rect x="918.93" y="2089.66" width="50.71" height="54.56" fill="#f2c8bf"/>
<rect x="969.64" y="2089.66" width="50.71" height="54.56" fill="#fdfaf9"/>
<rect x="1020.35" y="2089.66" width="50.71" height="54.56" fill="#f9fdfc"/>
<rect x="1071.07" y="2089.66" width="50.71" height="54.56" fill="#ffffff"/>
<rect x="1121.78" y="2089.66" width="50.71" height="54.56" fill="#cae9e3"/>
<rect x="462.50" y="2144.21" width="50.71" height="54.56" fill="#fefbfb"/>
<rect x="513.21" y="2144.21" width="50.71" height="54.56" fill="#f3faf9"/>
<rect x="563.93" y="2144.21" width="50.71" height="54.56" fill="#f7e4df"/>
<rect x="614.64" y="2144.21" width="50.71" height="54.56" fill="#fdfaf9"/>
<rect x="665.36" y="2144.21" width="50.71" height="54.56" fill="#ffffff"/>
<rect x="716.07" y="2144.21" width="50.71" height="54.56" fill="#ffffff"/>
<rect x="766.78" y="2144.21" width="50.71" height="54.56" fill="#eff8f7"/>
<rect x="817.50" y="2144.21" width="50.71" height="54.56" fill="#fbf2f0"/>
<rect x="868.21" y="2144.21" width="50.71" height="54.56" fill="#ffffff"/>
<rect x="918.93" y="2144.21" width="50.71" height="54.56" fill="#ffffff"/>
<rect x="969.64" y="2144.21" width="50.71" height="54.56" fill="#ffffff"/>
<rect x="1020.35" y="2144.21" width="50.71" height="54.56" fill="#f5fbfa"/>
<rect x="1071.07" y="2144.21" width="50.71" height="54.56" fill="#b4e0d7"/>
<rect x="1121.78" y="2144.21" width="50.71" height="54.56" fill="#f7fcfb"/>
<rect x="462.50" y="2198.77" width="50.71" height="54.56" fill="#ffffff"/>
<rect x="513.21" y="2198.77" width="50.71" height="54.56" fill="#fdfefe"/>
<rect x="563.93" y="2198.77" width="50.71" height="54.56" fill="#fbfdfd"/>
<rect x="614.64" y="2198.77" width="50.71" height="54.56" fill="#fcf8f6"/>
<rect x="665.36" y="2198.77" width="50.71" height="54.56" fill="#fefdfd"/>
<rect x="716.07" y="2198.77" width="50.71" height="54.56" fill="#fcf8f6"/>
<rect x="766.78" y="2198.77" width="50.71" height="54.56" fill="#fbf4f2"/>
<rect x="817.50" y="2198.77" width="50.71" height="54.56" fill="#f9fdfc"/>
<rect x="868.21" y="2198.77" width="50.71" height="54.56" fill="#fdfaf9"/>
<rect x="918.93" y="2198.77" width="50.71" height="54.56" fill="#fcf6f4"/>
<rect x="969.64" y="2198.77" width="50.71" height="54.56" fill="#faf0ee"/>
<rect x="1020.35" y="2198.77" width="50.71" height="54.56" fill="#ffffff"/>
<rect x="1071.07" y="2198.77" width="50.71" height="54.56" fill="#ffffff"/>
<rect x="1121.78" y="2198.77" width="50.71" height="54.56" fill="#fbf2f0"/>
<rect x="462.50" y="2253.33" width="50.71" height="54.56" fill="#fcf8f6"/>
<rect x="513.21" y="2253.33" width="50.71" height="54.56" fill="#fdfaf9"/>
<rect x="563.93" y="2253.33" width="50.71" height="54.56" fill="#fbf4f2"/>
<rect x="614.64" y="2253.33" width="50.71" height="54.56" fill="#f9fdfc"/>
<rect x="665.36" y="2253.33" width="50.71" height="54.56" fill="#fefdfd"/>
<rect x="716.07" y="2253.33" width="50.71" height="54.56" fill="#ffffff"/>
<rect x="766.78" y="2253.33" width="50.71" height="54.56" fill="#fefdfd"/>
<rect x="817.50" y="2253.33" width="50.71" height="54.56" fill="#fefdfd"/>
<rect x="868.21" y="2253.33" width="50.71" height="54.56" fill="#fdfaf9"/>
<rect x="918.93" y="2253.33" width="50.71" height="54.56" fill="#f7e4df"/>
<rect x="969.64" y="2253.33" width="50.71" height="54.56" fill="#fdfaf9"/>
<rect x="1020.35" y="2253.33" width="50.71" height="54.56" fill="#fefdfd"/>
<rect x="1071.07" y="2253.33" width="50.71" height="54.56" fill="#f8e9e5"/>
<rect x="1121.78" y="2253.33" width="50.71" height="54.56" fill="#f2c8bf"/>
<rect x="462.50" y="2307.88" width="50.71" height="54.56" fill="#fefdfd"/>
<rect x="513.21" y="2307.88" width="50.71" height="54.56" fill="#ffffff"/>
<rect x="563.93" y="2307.88" width="50.71" height="54.56" fill="#fefbfb"/>
<rect x="614.64" y="2307.88" width="50.71" height="54.56" fill="#fbfdfd"/>
<rect x="665.36" y="2307.88" width="50.71" height="54.56" fill="#fefdfd"/>
<rect x="716.07" y="2307.88" width="50.71" height="54.56" fill="#fefdfd"/>
<rect x="766.78" y="2307.88" width="50.71" height="54.56" fill="#f9fdfc"/>
<rect x="817.50" y="2307.88" width="50.71" height="54.56" fill="#fbf4f2"/>
<rect x="868.21" y="2307.88" width="50.71" height="54.56" fill="#fefbfb"/>
<rect x="918.93" y="2307.88" width="50.71" height="54.56" fill="#ebf7f4"/>
<rect x="969.64" y="2307.88" width="50.71" height="54.56" fill="#fefdfd"/>
<rect x="1020.35" y="2307.88" width="50.71" height="54.56" fill="#ffffff"/>
<rect x="1071.07" y="2307.88" width="50.71" height="54.56" fill="#eff8f7"/>
<rect x="1121.78" y="2307.88" width="50.71" height="54.56" fill="#f3faf9"/>
<rect x="462.50" y="2362.44" width="50.71" height="54.56" fill="#f7e4df"/>
<rect x="513.21" y="2362.44" width="50.71" height="54.56" fill="#f8e9e5"/>
<rect x="563.93" y="2362.44" width="50.71" height="54.56" fill="#f3d2ca"/>
<rect x="614.64" y="2362.44" width="50.71" height="54.56" fill="#f4d7d0"/>
<rect x="665.36" y="2362.44" width="50.71" height="54.56" fill="#f8e9e5"/>
<rect x="716.07" y="2362.44" width="50.71" height="54.56" fill="#efad9f"/>
<rect x="766.78" y="2362.44" width="50.71" height="54.56" fill="#f1c5bb"/>
<rect x="817.50" y="2362.44" width="50.71" height="54.56" fill="#ee735b"/>
<rect x="868.21" y="2362.44" width="50.71" height="54.56" fill="#f4d7d0"/>
<rect x="918.93" y="2362.44" width="50.71" height="54.56" fill="#f0b6aa"/>
<rect x="969.64" y="2362.44" width="50.71" height="54.56" fill="#f2ccc3"/>
<rect x="1020.35" y="2362.44" width="50.71" height="54.56" fill="#f2ccc3"/>
<rect x="1071.07" y="2362.44" width="50.71" height="54.56" fill="#f7e4df"/>
<rect x="1121.78" y="2362.44" width="50.71" height="54.56" fill="#f5dbd4"/>
<path d="M462.50 1651.50V2418.70M513.21 1651.50V2418.70M563.93 1651.50V2418.70M614.64 1651.50V2418.70M665.36 1651.50V2418.70M716.07 1651.50V2418.70M766.78 1651.50V2418.70M817.50 1651.50V2418.70M868.21 1651.50V2418.70M918.93 1651.50V2418.70M969.64 1651.50V2418.70M1020.35 1651.50V2418.70M1071.07 1651.50V2418.70M1121.78 1651.50V2418.70M1172.50 1651.50V2418.70M460.80 1653.20H1174.20M460.80 1707.76H1174.20M460.80 1762.31H1174.20M460.80 1816.87H1174.20M460.80 1871.43H1174.20M460.80 1925.99H1174.20M460.80 1980.54H1174.20M460.80 2035.10H1174.20M460.80 2089.66H1174.20M460.80 2144.21H1174.20M460.80 2198.77H1174.20M460.80 2253.33H1174.20M460.80 2307.88H1174.20M460.80 2362.44H1174.20M460.80 2417.00H1174.20" stroke="#000" stroke-width="3.4" fill="none"/>
<path d="M454.30 1680.48H460.80M454.30 1735.04H460.80M454.30 1789.59H460.80M454.30 1844.15H460.80M454.30 1898.71H460.80M454.30 1953.26H460.80M454.30 2007.82H460.80M454.30 2062.38H460.80M454.30 2116.93H460.80M454.30 2171.49H460.80M454.30 2226.05H460.80M454.30 2280.61H460.80M454.30 2335.16H460.80M454.30 2389.72H460.80M487.86 2418.70V2425.20M538.57 2418.70V2425.20M589.28 2418.70V2425.20M640.00 2418.70V2425.20M690.71 2418.70V2425.20M741.43 2418.70V2425.20M792.14 2418.70V2425.20M842.86 2418.70V2425.20M893.57 2418.70V2425.20M944.28 2418.70V2425.20M995.00 2418.70V2425.20M1045.71 2418.70V2425.20M1096.42 2418.70V2425.20M1147.14 2418.70V2425.20" stroke="#000" stroke-width="1.6" fill="none"/>
<text transform="translate(449.80 1684.48) scale(1 1.03)" font-size="21.8" text-anchor="end">Brain_Amygdala</text>
<text transform="translate(449.80 1739.04) scale(1 1.03)" font-size="21.8" text-anchor="end">Brain_Anterior_cingulate_cortex_BA24</text>
<text transform="translate(449.80 1793.59) scale(1 1.03)" font-size="21.8" text-anchor="end">Brain_Caudate_basal_ganglia</text>
<text transform="translate(449.80 1848.15) scale(1 1.03)" font-size="21.8" text-anchor="end">Brain_Cerebellar_Hemisphere</text>
<text transform="translate(449.80 1902.71) scale(1 1.03)" font-size="21.8" text-anchor="end">Brain_Cerebellum</text>
<text transform="translate(449.80 1957.26) scale(1 1.03)" font-size="21.8" text-anchor="end">Brain_Cortex</text>
<text transform="translate(449.80 2011.82) scale(1 1.03)" font-size="21.8" text-anchor="end">Brain_Frontal_Cortex_BA9</text>
<text transform="translate(449.80 2066.38) scale(1 1.03)" font-size="21.8" text-anchor="end">Brain_Hippocampus</text>
<text transform="translate(449.80 2120.93) scale(1 1.03)" font-size="21.8" text-anchor="end">Brain_Hypothalamus</text>
<text transform="translate(449.80 2175.49) scale(1 1.03)" font-size="21.8" text-anchor="end">Brain_Nucleus_accumbens_basal_ganglia</text>
<text transform="translate(449.80 2230.05) scale(1 1.03)" font-size="21.8" text-anchor="end">Brain_Putamen_basal_ganglia</text>
<text transform="translate(449.80 2284.61) scale(1 1.03)" font-size="21.8" text-anchor="end">Brain_Spinal_cord_cervical_c-1</text>
<text transform="translate(449.80 2339.16) scale(1 1.03)" font-size="21.8" text-anchor="end">Brain_Substantia_nigra</text>
<text transform="translate(449.80 2393.72) scale(1 1.03)" font-size="21.8" text-anchor="end">AllTissues</text>
<text x="690.71" y="1794.79" font-size="18.2" text-anchor="middle" fill="#333">*</text>
<text x="1045.71" y="1794.79" font-size="18.2" text-anchor="middle" fill="#333">**</text>
<text x="538.57" y="1903.91" font-size="18.2" text-anchor="middle" fill="#333">**</text>
<text x="640.00" y="1903.91" font-size="18.2" text-anchor="middle" fill="#333">**</text>
<text x="741.43" y="1903.91" font-size="18.2" text-anchor="middle" fill="#333">*</text>
<text x="893.57" y="1903.91" font-size="18.2" text-anchor="middle" fill="#333">*</text>
<text x="1045.71" y="1903.91" font-size="18.2" text-anchor="middle" fill="#333">***</text>
<text x="538.57" y="1958.46" font-size="18.2" text-anchor="middle" fill="#333">*</text>
<text x="741.43" y="1958.46" font-size="18.2" text-anchor="middle" fill="#333">**</text>
<text x="792.14" y="1958.46" font-size="18.2" text-anchor="middle" fill="#333">**</text>
<text x="1045.71" y="1958.46" font-size="18.2" text-anchor="middle" fill="#333">*</text>
<text x="640.00" y="2067.58" font-size="18.2" text-anchor="middle" fill="#333">*</text>
<text x="589.28" y="2176.69" font-size="18.2" text-anchor="middle" fill="#333">*</text>
<text x="487.86" y="2285.81" font-size="18.2" text-anchor="middle" fill="#333">*</text>
<text x="487.86" y="2394.92" font-size="18.2" text-anchor="middle" fill="#333">***</text>
<text x="538.57" y="2394.92" font-size="18.2" text-anchor="middle" fill="#333">***</text>
<text x="589.28" y="2394.92" font-size="18.2" text-anchor="middle" fill="#333">**</text>
<text x="640.00" y="2394.92" font-size="18.2" text-anchor="middle" fill="#333">***</text>
<text x="690.71" y="2394.92" font-size="18.2" text-anchor="middle" fill="#333">*</text>
<text x="741.43" y="2394.92" font-size="18.2" text-anchor="middle" fill="#333">***</text>
<text x="792.14" y="2394.92" font-size="18.2" text-anchor="middle" fill="#333">***</text>
<text x="842.86" y="2394.92" font-size="18.2" text-anchor="middle" fill="#333">***</text>
<text x="893.57" y="2394.92" font-size="18.2" text-anchor="middle" fill="#333">***</text>
<text x="944.28" y="2394.92" font-size="18.2" text-anchor="middle" fill="#333">*</text>
<text x="995.00" y="2394.92" font-size="18.2" text-anchor="middle" fill="#333">***</text>
<text x="1045.71" y="2394.92" font-size="18.2" text-anchor="middle" fill="#333">***</text>
<text transform="translate(493.86 2441.20) rotate(-45) scale(1 1.03)" font-size="22.3" text-anchor="end">IBS</text>
<text transform="translate(544.57 2441.20) rotate(-45) scale(1 1.03)" font-size="22.3" text-anchor="end">GERD</text>
<text transform="translate(595.28 2441.20) rotate(-45) scale(1 1.03)" font-size="22.3" text-anchor="end">PU</text>
<text transform="translate(646.00 2441.20) rotate(-45) scale(1 1.03)" font-size="22.3" text-anchor="end">DD</text>
<text transform="translate(696.71 2441.20) rotate(-45) scale(1 1.03)" font-size="22.3" text-anchor="end">GD</text>
<text transform="translate(747.43 2441.20) rotate(-45) scale(1 1.03)" font-size="22.3" text-anchor="end">IBD</text>
<text transform="translate(798.14 2441.20) rotate(-45) scale(1 1.03)" font-size="22.3" text-anchor="end">UC</text>
<text transform="translate(848.86 2441.20) rotate(-45) scale(1 1.03)" font-size="22.3" text-anchor="end">CD</text>
<text transform="translate(899.57 2441.20) rotate(-45) scale(1 1.03)" font-size="22.3" text-anchor="end">SF</text>
<text transform="translate(950.28 2441.20) rotate(-45) scale(1 1.03)" font-size="22.3" text-anchor="end">NAFLD</text>
<text transform="translate(1001.00 2441.20) rotate(-45) scale(1 1.03)" font-size="22.3" text-anchor="end">CL&amp;CC</text>
<text transform="translate(1051.71 2441.20) rotate(-45) scale(1 1.03)" font-size="22.3" text-anchor="end">CRC</text>
<text transform="translate(1102.42 2441.20) rotate(-45) scale(1 1.03)" font-size="22.3" text-anchor="end">AP</text>
<text transform="translate(1153.14 2441.20) rotate(-45) scale(1 1.03)" font-size="22.3" text-anchor="end">APP</text>
<rect x="1019.85" y="1762.81" width="50.21" height="53.96" fill="none" stroke="#ec1c24" stroke-width="3.9"/>
<rect x="512.71" y="1871.93" width="50.21" height="53.96" fill="none" stroke="#ec1c24" stroke-width="3.9"/>
<rect x="1019.85" y="1871.93" width="50.21" height="53.96" fill="none" stroke="#ec1c24" stroke-width="3.9"/>
<rect x="766.28" y="1926.49" width="50.21" height="53.96" fill="none" stroke="#ec1c24" stroke-width="3.9"/>
<defs><linearGradient id="gb" x1="0" y1="0" x2="0" y2="1"><stop offset="0.0000" stop-color="#ee735b"/><stop offset="0.0491" stop-color="#ee816b"/><stop offset="0.0981" stop-color="#ee8f7c"/><stop offset="0.1472" stop-color="#ee9d8c"/><stop offset="0.1962" stop-color="#efab9d"/><stop offset="0.2453" stop-color="#f0b9ad"/><stop offset="0.2944" stop-color="#f2c7bd"/><stop offset="0.3434" stop-color="#f4d5ce"/><stop offset="0.3925" stop-color="#f7e3de"/><stop offset="0.4415" stop-color="#faf1ef"/><stop offset="0.4906" stop-color="#ffffff"/><stop offset="0.5415" stop-color="#f4faf9"/><stop offset="0.5925" stop-color="#e8f6f3"/><stop offset="0.6434" stop-color="#ddf1ed"/><stop offset="0.6944" stop-color="#d2ece7"/><stop offset="0.7453" stop-color="#c6e8e1"/><stop offset="0.7962" stop-color="#bbe3db"/><stop offset="0.8472" stop-color="#b0ded5"/><stop offset="0.8981" stop-color="#a5d9cf"/><stop offset="0.9491" stop-color="#99d5c9"/><stop offset="1.0000" stop-color="#8ed0c3"/></linearGradient></defs>
<rect x="1267.4" y="1680.5" width="32.399999999999864" height="415.1999999999998" fill="url(#gb)"/>
<text transform="translate(1258.90 1707.80) scale(1 1.03)" font-size="21.8" text-anchor="end">0.4</text>
<text transform="translate(1258.90 1799.10) scale(1 1.03)" font-size="21.8" text-anchor="end">0.2</text>
<text transform="translate(1258.90 1890.80) scale(1 1.03)" font-size="21.8" text-anchor="end">0</text>
<text transform="translate(1258.90 1993.00) scale(1 1.03)" font-size="21.8" text-anchor="end">-0.2</text>
<text transform="translate(1258.90 2093.80) scale(1 1.03)" font-size="21.8" text-anchor="end">-0.33</text>
<path d="M1259.90 1701.20H1267.40M1259.90 1792.50H1267.40M1259.90 1884.20H1267.40M1259.90 1986.40H1267.40M1259.90 2087.20H1267.40" stroke="#000" stroke-width="1.6" fill="none"/>
<g fill="#000"><rect x="1269.70" y="1650.40" width="18.40" height="3.20" rx="1.60"/><rect x="1273.20" y="1652.00" width="3.40" height="11.30"/><rect x="1281.30" y="1652.00" width="3.40" height="11.30"/></g>
<text x="1288.40" y="1671.10" font-size="14.00" font-weight="bold">t</text>
<path d="M1295.80 1661.60L1294.80 1663.60" stroke="#000" stroke-width="1.80" stroke-linecap="round"/>
<path fill="#000" fill-rule="evenodd" d="M5.6 1556.1H16.9V1572.2C19.6 1569.2 23.8 1567.7 29.2 1567.7C40.2 1567.7 47.8 1575 47.8 1585C47.8 1595.2 40.3 1602.5 29.4 1602.5C23.2 1602.5 19 1600.2 15.9 1596.6V1601.3H5.6Z M26.4 1574.1C20.4 1574.1 16.5 1578.6 16.5 1585C16.5 1591.4 20.4 1595.9 26.4 1595.9C32.4 1595.9 36.3 1591.4 36.3 1585C36.3 1578.6 32.4 1574.1 26.4 1574.1Z"/>
</svg>
</body></html>
